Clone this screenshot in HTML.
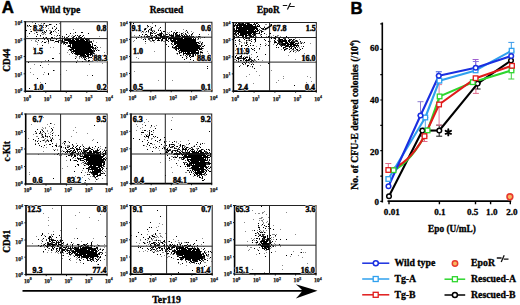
<!DOCTYPE html>
<html><head><meta charset="utf-8"><title>Figure</title>
<style>html,body{margin:0;padding:0;background:#fff;width:520px;height:305px;overflow:hidden}svg{display:block}</style>
</head><body>
<svg width="520" height="305" viewBox="0 0 520 305"><defs><filter id="bl" x="-5%" y="-5%" width="110%" height="110%"><feGaussianBlur stdDeviation="0.45"/></filter></defs><g filter="url(#bl)">
<path fill="#000" d="M35 23h1v1h-1zM44 23h1v1h-1zM49 24h2v1h-2zM56 24h1v1h-1zM27 25h1v1h-1zM29 25h1v1h-1zM39 25h1v1h-1zM43 25h1v1h-1zM46 25h1v1h-1zM30 26h1v1h-1zM35 26h1v1h-1zM41 26h1v1h-1zM46 26h1v1h-1zM54 26h1v1h-1zM40 27h1v1h-1zM43 27h1v1h-1zM39 28h1v1h-1zM52 28h1v1h-1zM56 28h1v1h-1zM38 29h1v1h-1zM41 29h2v1h-2zM55 29h1v1h-1zM26 30h1v1h-1zM35 30h1v1h-1zM38 30h1v1h-1zM40 30h2v1h-2zM46 30h1v1h-1zM58 30h1v1h-1zM31 31h1v1h-1zM40 31h1v1h-1zM44 31h1v1h-1zM51 31h1v1h-1zM53 31h1v1h-1zM36 32h1v1h-1zM42 32h1v1h-1zM45 32h1v1h-1zM50 32h2v1h-2zM75 32h1v1h-1zM81 32h2v1h-2zM29 33h1v1h-1zM50 33h1v1h-1zM70 33h1v1h-1zM88 33h1v1h-1zM37 34h1v1h-1zM51 34h1v1h-1zM66 34h1v1h-1zM40 35h1v1h-1zM57 35h1v1h-1zM59 35h1v1h-1zM75 35h1v1h-1zM77 35h1v1h-1zM80 35h1v1h-1zM83 35h1v1h-1zM36 36h1v1h-1zM62 36h1v1h-1zM68 36h1v1h-1zM74 36h1v1h-1zM79 36h1v1h-1zM82 36h1v1h-1zM43 37h1v1h-1zM46 37h1v1h-1zM51 37h2v1h-2zM64 37h1v1h-1zM73 37h1v1h-1zM76 37h1v1h-1zM80 37h2v1h-2zM42 38h1v1h-1zM47 38h1v1h-1zM62 38h1v1h-1zM70 38h1v1h-1zM73 38h7v1h-7zM81 38h2v1h-2zM84 38h1v1h-1zM87 38h1v1h-1zM89 38h1v1h-1zM44 39h1v1h-1zM47 39h1v1h-1zM50 39h1v1h-1zM56 39h1v1h-1zM62 39h1v1h-1zM64 39h7v1h-7zM72 39h2v1h-2zM75 39h4v1h-4zM80 39h4v1h-4zM85 39h2v1h-2zM88 39h1v1h-1zM38 40h1v1h-1zM48 40h1v1h-1zM52 40h2v1h-2zM60 40h1v1h-1zM62 40h1v1h-1zM65 40h10v1h-10zM76 40h9v1h-9zM86 40h2v1h-2zM42 41h1v1h-1zM48 41h1v1h-1zM55 41h4v1h-4zM62 41h1v1h-1zM68 41h20v1h-20zM89 41h1v1h-1zM91 41h1v1h-1zM44 42h2v1h-2zM58 42h1v1h-1zM64 42h4v1h-4zM69 42h21v1h-21zM91 42h1v1h-1zM64 43h1v1h-1zM69 43h21v1h-21zM92 43h1v1h-1zM65 44h1v1h-1zM70 44h1v1h-1zM72 44h19v1h-19zM92 44h1v1h-1zM42 45h1v1h-1zM68 45h3v1h-3zM72 45h19v1h-19zM94 45h2v1h-2zM68 46h3v1h-3zM72 46h21v1h-21zM70 47h24v1h-24zM95 47h1v1h-1zM97 47h1v1h-1zM72 48h19v1h-19zM92 48h1v1h-1zM95 48h1v1h-1zM69 49h5v1h-5zM75 49h17v1h-17zM39 50h1v1h-1zM70 50h1v1h-1zM73 50h20v1h-20zM94 50h1v1h-1zM96 50h1v1h-1zM98 50h1v1h-1zM72 51h21v1h-21zM94 51h1v1h-1zM71 52h1v1h-1zM75 52h18v1h-18zM72 53h1v1h-1zM74 53h15v1h-15zM90 53h2v1h-2zM93 53h1v1h-1zM76 54h9v1h-9zM86 54h6v1h-6zM94 54h1v1h-1zM96 54h1v1h-1zM80 55h6v1h-6zM87 55h2v1h-2zM90 55h1v1h-1zM92 55h1v1h-1zM94 55h2v1h-2zM83 56h1v1h-1zM85 56h4v1h-4zM83 57h1v1h-1zM85 57h1v1h-1zM89 57h1v1h-1zM91 57h1v1h-1zM97 57h1v1h-1zM52 58h2v1h-2zM75 58h1v1h-1zM94 58h1v1h-1zM84 59h2v1h-2zM48 60h1v1h-1zM88 60h2v1h-2zM82 61h1v1h-1zM88 61h1v1h-1zM28 62h1v1h-1zM76 62h1v1h-1zM40 65h1v1h-1zM53 70h1v1h-1zM48 73h1v1h-1zM48 74h1v1h-1zM92 75h1v1h-1zM37 78h1v1h-1zM45 83h1v1h-1zM29 88h1v1h-1z"/>
<path fill="#3a3a3a" d="M73 36h1v1h-1zM78 36h1v1h-1zM66 37h2v1h-2zM72 37h1v1h-1zM78 37h2v1h-2zM84 37h1v1h-1zM57 38h1v1h-1zM59 38h1v1h-1zM61 38h1v1h-1zM63 38h1v1h-1zM68 38h1v1h-1zM71 38h2v1h-2zM83 38h1v1h-1zM86 38h1v1h-1zM87 39h1v1h-1zM50 40h2v1h-2zM58 40h2v1h-2zM61 40h1v1h-1zM64 40h1v1h-1zM88 40h2v1h-2zM61 41h1v1h-1zM63 41h2v1h-2zM88 41h1v1h-1zM90 41h1v1h-1zM61 42h3v1h-3zM90 42h1v1h-1zM61 43h1v1h-1zM63 43h1v1h-1zM66 43h2v1h-2zM92 45h1v1h-1zM71 48h1v1h-1zM93 48h2v1h-2zM93 49h1v1h-1zM95 49h1v1h-1zM71 50h1v1h-1zM93 50h1v1h-1zM71 51h1v1h-1zM93 51h1v1h-1zM73 52h1v1h-1zM93 52h1v1h-1zM92 53h1v1h-1zM94 53h1v1h-1zM75 54h1v1h-1zM92 54h1v1h-1zM77 55h1v1h-1zM93 55h1v1h-1zM79 56h4v1h-4zM84 56h1v1h-1zM92 56h1v1h-1zM81 57h1v1h-1zM84 57h1v1h-1zM88 57h1v1h-1zM90 57h1v1h-1zM84 58h1v1h-1zM86 58h1v1h-1zM88 58h1v1h-1z"/>
<path fill="#8a8a8a" d="M32 22h1v1h-1zM41 23h1v1h-1zM43 23h1v1h-1zM59 23h1v1h-1zM38 24h1v1h-1zM43 24h1v1h-1zM51 24h1v1h-1zM45 25h1v1h-1zM47 25h2v1h-2zM27 26h2v1h-2zM31 26h1v1h-1zM37 26h1v1h-1zM39 26h1v1h-1zM45 27h1v1h-1zM52 27h1v1h-1zM56 27h1v1h-1zM35 28h1v1h-1zM48 28h1v1h-1zM30 29h1v1h-1zM34 29h1v1h-1zM43 29h1v1h-1zM73 29h1v1h-1zM36 30h2v1h-2zM39 30h1v1h-1zM43 30h1v1h-1zM49 30h2v1h-2zM54 30h1v1h-1zM30 31h1v1h-1zM36 31h1v1h-1zM42 31h1v1h-1zM46 31h1v1h-1zM50 31h1v1h-1zM55 31h1v1h-1zM60 31h1v1h-1zM37 32h1v1h-1zM43 32h2v1h-2zM56 32h1v1h-1zM34 33h1v1h-1zM41 33h1v1h-1zM43 33h2v1h-2zM49 33h1v1h-1zM58 33h1v1h-1zM73 33h1v1h-1zM42 34h2v1h-2zM45 34h1v1h-1zM54 35h1v1h-1zM69 35h1v1h-1zM72 35h1v1h-1zM79 35h1v1h-1zM27 36h1v1h-1zM40 36h1v1h-1zM56 36h1v1h-1zM64 36h1v1h-1zM71 36h1v1h-1zM99 36h1v1h-1zM45 37h1v1h-1zM54 37h1v1h-1zM59 37h2v1h-2zM62 37h1v1h-1zM36 38h1v1h-1zM52 38h1v1h-1zM36 39h1v1h-1zM48 39h1v1h-1zM89 39h1v1h-1zM31 40h1v1h-1zM35 40h1v1h-1zM93 40h1v1h-1zM35 41h2v1h-2zM46 41h1v1h-1zM93 41h1v1h-1zM37 42h1v1h-1zM41 42h1v1h-1zM48 42h1v1h-1zM54 42h1v1h-1zM96 42h1v1h-1zM48 43h1v1h-1zM37 44h1v1h-1zM63 44h1v1h-1zM60 45h1v1h-1zM67 46h1v1h-1zM96 46h1v1h-1zM33 47h1v1h-1zM50 47h1v1h-1zM53 47h1v1h-1zM100 47h1v1h-1zM96 48h1v1h-1zM97 49h1v1h-1zM68 50h1v1h-1zM99 50h1v1h-1zM67 52h1v1h-1zM104 52h1v1h-1zM59 53h1v1h-1zM69 54h1v1h-1zM95 54h1v1h-1zM97 55h1v1h-1zM102 55h1v1h-1zM75 56h2v1h-2zM76 57h1v1h-1zM79 57h1v1h-1zM79 58h1v1h-1zM82 58h1v1h-1zM92 58h1v1h-1zM45 60h1v1h-1zM60 60h1v1h-1zM77 60h1v1h-1zM85 60h2v1h-2zM92 60h1v1h-1zM97 61h1v1h-1zM41 62h1v1h-1zM102 63h1v1h-1zM34 64h1v1h-1zM48 64h1v1h-1zM89 64h1v1h-1zM42 67h1v1h-1zM30 68h1v1h-1zM54 70h1v1h-1zM66 70h1v1h-1zM30 72h1v1h-1zM44 72h1v1h-1zM33 74h1v1h-1zM43 74h1v1h-1zM60 74h1v1h-1zM87 75h1v1h-1zM40 82h1v1h-1z"/>
</g>
<path d="M25.3 21.7H107.3V91.2" fill="none" stroke="#222" stroke-width="1.1"/>
<path d="M25.3 21.2V91.2H107.8" fill="none" stroke="#000" stroke-width="1.6"/>
<path stroke="#222" stroke-width="1" fill="none" d="M60.7 21.7V91.2M25.3 38.6H107.3M25.3 61.8H107.3"/>
<path stroke="#111" stroke-width="1" d="M25.3 21.7h-1.6M25.3 91.2v1.6M25.3 39.1h-1.6M45.8 91.2v1.6M25.3 56.5h-1.6M66.3 91.2v1.6M25.3 73.8h-1.6M86.8 91.2v1.6M25.3 91.2h-1.6M107.3 91.2v1.6"/>
<text x="22.3" y="25.3" font-size="5.8" fill="#111" stroke="#222" stroke-width="0.25" font-family="Liberation Serif" font-weight="bold" text-anchor="end">10<tspan font-size="3.9" dy="-2.2">4</tspan></text>
<text x="27.1" y="100.6" font-size="5.8" fill="#111" stroke="#222" stroke-width="0.25" font-family="Liberation Serif" font-weight="bold" text-anchor="middle">10<tspan font-size="3.9" dy="-2.2">0</tspan></text>
<text x="22.3" y="42.7" font-size="5.8" fill="#111" stroke="#222" stroke-width="0.25" font-family="Liberation Serif" font-weight="bold" text-anchor="end">10<tspan font-size="3.9" dy="-2.2">3</tspan></text>
<text x="47.6" y="100.6" font-size="5.8" fill="#111" stroke="#222" stroke-width="0.25" font-family="Liberation Serif" font-weight="bold" text-anchor="middle">10<tspan font-size="3.9" dy="-2.2">1</tspan></text>
<text x="22.3" y="60.1" font-size="5.8" fill="#111" stroke="#222" stroke-width="0.25" font-family="Liberation Serif" font-weight="bold" text-anchor="end">10<tspan font-size="3.9" dy="-2.2">2</tspan></text>
<text x="68.1" y="100.6" font-size="5.8" fill="#111" stroke="#222" stroke-width="0.25" font-family="Liberation Serif" font-weight="bold" text-anchor="middle">10<tspan font-size="3.9" dy="-2.2">2</tspan></text>
<text x="22.3" y="77.4" font-size="5.8" fill="#111" stroke="#222" stroke-width="0.25" font-family="Liberation Serif" font-weight="bold" text-anchor="end">10<tspan font-size="3.9" dy="-2.2">1</tspan></text>
<text x="88.6" y="100.6" font-size="5.8" fill="#111" stroke="#222" stroke-width="0.25" font-family="Liberation Serif" font-weight="bold" text-anchor="middle">10<tspan font-size="3.9" dy="-2.2">3</tspan></text>
<text x="22.3" y="93.4" font-size="5.8" fill="#111" stroke="#222" stroke-width="0.25" font-family="Liberation Serif" font-weight="bold" text-anchor="end">10<tspan font-size="3.9" dy="-2.2">0</tspan></text>
<text x="109.1" y="100.6" font-size="5.8" fill="#111" stroke="#222" stroke-width="0.25" font-family="Liberation Serif" font-weight="bold" text-anchor="middle">10<tspan font-size="3.9" dy="-2.2">4</tspan></text>
<text x="33" y="30.5" font-size="8" font-family="Liberation Serif" font-weight="bold" text-anchor="start" stroke="#fff" stroke-width="1.6" stroke-linejoin="round">8.2</text>
<text x="33" y="30.5" font-size="8" font-family="Liberation Serif" font-weight="bold" text-anchor="start" stroke="#000" stroke-width="0.45">8.2</text>
<text x="106.5" y="30.5" font-size="8" font-family="Liberation Serif" font-weight="bold" text-anchor="end" stroke="#fff" stroke-width="1.6" stroke-linejoin="round">0.8</text>
<text x="106.5" y="30.5" font-size="8" font-family="Liberation Serif" font-weight="bold" text-anchor="end" stroke="#000" stroke-width="0.45">0.8</text>
<text x="33" y="53.5" font-size="8" font-family="Liberation Serif" font-weight="bold" text-anchor="start" stroke="#fff" stroke-width="1.6" stroke-linejoin="round">1.5</text>
<text x="33" y="53.5" font-size="8" font-family="Liberation Serif" font-weight="bold" text-anchor="start" stroke="#000" stroke-width="0.45">1.5</text>
<text x="107.5" y="61" font-size="8" font-family="Liberation Serif" font-weight="bold" text-anchor="end" stroke="#fff" stroke-width="1.6" stroke-linejoin="round">88.3</text>
<text x="107.5" y="61" font-size="8" font-family="Liberation Serif" font-weight="bold" text-anchor="end" stroke="#000" stroke-width="0.45">88.3</text>
<text x="33.5" y="90" font-size="8" font-family="Liberation Serif" font-weight="bold" text-anchor="start" stroke="#fff" stroke-width="1.6" stroke-linejoin="round">1.0</text>
<text x="33.5" y="90" font-size="8" font-family="Liberation Serif" font-weight="bold" text-anchor="start" stroke="#000" stroke-width="0.45">1.0</text>
<text x="106.8" y="90" font-size="8" font-family="Liberation Serif" font-weight="bold" text-anchor="end" stroke="#fff" stroke-width="1.6" stroke-linejoin="round">0.2</text>
<text x="106.8" y="90" font-size="8" font-family="Liberation Serif" font-weight="bold" text-anchor="end" stroke="#000" stroke-width="0.45">0.2</text>
<g filter="url(#bl)">
<path fill="#000" d="M133 23h1v1h-1zM147 25h1v1h-1zM155 25h1v1h-1zM140 26h1v1h-1zM148 26h1v1h-1zM152 27h1v1h-1zM160 27h1v1h-1zM138 28h1v1h-1zM145 28h1v1h-1zM151 28h1v1h-1zM144 29h2v1h-2zM149 29h1v1h-1zM151 29h1v1h-1zM148 30h1v1h-1zM151 30h1v1h-1zM158 30h1v1h-1zM160 30h1v1h-1zM186 30h1v1h-1zM142 31h1v1h-1zM146 31h1v1h-1zM148 31h1v1h-1zM152 31h1v1h-1zM154 31h1v1h-1zM163 31h2v1h-2zM171 31h1v1h-1zM150 32h1v1h-1zM161 32h1v1h-1zM174 32h1v1h-1zM176 32h2v1h-2zM187 32h1v1h-1zM150 33h1v1h-1zM152 33h1v1h-1zM160 33h2v1h-2zM173 33h1v1h-1zM175 33h2v1h-2zM181 33h1v1h-1zM185 33h1v1h-1zM192 33h1v1h-1zM142 34h1v1h-1zM145 34h2v1h-2zM150 34h1v1h-1zM157 34h2v1h-2zM160 34h2v1h-2zM166 34h1v1h-1zM169 34h1v1h-1zM173 34h1v1h-1zM175 34h1v1h-1zM179 34h1v1h-1zM191 34h1v1h-1zM199 34h1v1h-1zM139 35h1v1h-1zM152 35h1v1h-1zM155 35h2v1h-2zM159 35h3v1h-3zM170 35h4v1h-4zM176 35h4v1h-4zM181 35h2v1h-2zM184 35h1v1h-1zM189 35h1v1h-1zM141 36h1v1h-1zM144 36h1v1h-1zM146 36h1v1h-1zM148 36h2v1h-2zM156 36h1v1h-1zM160 36h9v1h-9zM171 36h3v1h-3zM175 36h6v1h-6zM182 36h7v1h-7zM193 36h1v1h-1zM198 36h2v1h-2zM138 37h1v1h-1zM151 37h1v1h-1zM154 37h5v1h-5zM160 37h8v1h-8zM169 37h11v1h-11zM181 37h10v1h-10zM194 37h1v1h-1zM204 37h1v1h-1zM136 38h1v1h-1zM150 38h3v1h-3zM156 38h5v1h-5zM162 38h5v1h-5zM168 38h15v1h-15zM184 38h8v1h-8zM193 38h1v1h-1zM195 38h1v1h-1zM198 38h1v1h-1zM143 39h1v1h-1zM145 39h1v1h-1zM158 39h1v1h-1zM162 39h1v1h-1zM166 39h1v1h-1zM170 39h1v1h-1zM173 39h23v1h-23zM152 40h2v1h-2zM157 40h3v1h-3zM161 40h2v1h-2zM166 40h2v1h-2zM171 40h5v1h-5zM177 40h19v1h-19zM145 41h1v1h-1zM168 41h1v1h-1zM171 41h25v1h-25zM165 42h1v1h-1zM174 42h25v1h-25zM202 42h1v1h-1zM171 43h1v1h-1zM174 43h23v1h-23zM199 43h1v1h-1zM201 43h1v1h-1zM166 44h1v1h-1zM174 44h2v1h-2zM177 44h21v1h-21zM201 44h1v1h-1zM176 45h24v1h-24zM204 45h1v1h-1zM168 46h1v1h-1zM172 46h1v1h-1zM175 46h24v1h-24zM200 46h1v1h-1zM202 46h2v1h-2zM172 47h1v1h-1zM174 47h3v1h-3zM178 47h22v1h-22zM176 48h24v1h-24zM201 48h2v1h-2zM175 49h2v1h-2zM178 49h1v1h-1zM180 49h18v1h-18zM199 49h3v1h-3zM176 50h1v1h-1zM179 50h19v1h-19zM181 51h15v1h-15zM198 51h1v1h-1zM179 52h1v1h-1zM181 52h1v1h-1zM183 52h1v1h-1zM185 52h1v1h-1zM187 52h3v1h-3zM191 52h8v1h-8zM200 52h3v1h-3zM177 53h1v1h-1zM179 53h1v1h-1zM183 53h12v1h-12zM196 53h3v1h-3zM183 54h1v1h-1zM186 54h1v1h-1zM188 54h1v1h-1zM193 54h1v1h-1zM195 54h1v1h-1zM197 54h2v1h-2zM200 54h1v1h-1zM180 55h1v1h-1zM189 55h2v1h-2zM193 55h1v1h-1zM186 56h1v1h-1zM189 56h1v1h-1zM191 56h3v1h-3zM202 56h1v1h-1zM182 57h1v1h-1zM190 57h1v1h-1zM186 58h1v1h-1zM184 59h1v1h-1zM190 59h1v1h-1zM193 60h1v1h-1zM207 66h1v1h-1zM207 68h1v1h-1z"/>
<path fill="#3a3a3a" d="M151 32h1v1h-1zM153 32h1v1h-1zM156 32h1v1h-1zM151 33h1v1h-1zM154 33h2v1h-2zM159 33h1v1h-1zM162 33h1v1h-1zM182 33h1v1h-1zM159 34h1v1h-1zM163 34h1v1h-1zM167 34h1v1h-1zM171 34h1v1h-1zM176 34h2v1h-2zM181 34h1v1h-1zM183 34h1v1h-1zM185 34h2v1h-2zM147 35h1v1h-1zM150 35h2v1h-2zM158 35h1v1h-1zM163 35h2v1h-2zM169 35h1v1h-1zM175 35h1v1h-1zM186 35h2v1h-2zM191 35h1v1h-1zM147 36h1v1h-1zM151 36h1v1h-1zM154 36h1v1h-1zM189 36h4v1h-4zM147 37h1v1h-1zM152 37h2v1h-2zM191 37h2v1h-2zM148 38h2v1h-2zM155 38h1v1h-1zM148 39h2v1h-2zM152 39h1v1h-1zM155 39h1v1h-1zM161 39h1v1h-1zM165 39h1v1h-1zM168 39h1v1h-1zM171 39h1v1h-1zM154 40h1v1h-1zM170 40h1v1h-1zM172 42h1v1h-1zM198 43h1v1h-1zM172 44h1v1h-1zM173 45h1v1h-1zM200 45h1v1h-1zM199 46h1v1h-1zM173 47h1v1h-1zM201 47h1v1h-1zM174 48h2v1h-2zM200 48h1v1h-1zM198 50h1v1h-1zM178 51h2v1h-2zM200 51h1v1h-1zM180 52h1v1h-1zM195 53h1v1h-1zM187 54h1v1h-1zM189 54h2v1h-2zM192 54h1v1h-1zM185 55h1v1h-1zM187 55h1v1h-1zM192 55h1v1h-1zM195 55h1v1h-1z"/>
<path fill="#8a8a8a" d="M152 23h1v1h-1zM137 25h1v1h-1zM139 26h1v1h-1zM147 26h1v1h-1zM150 26h1v1h-1zM155 26h1v1h-1zM135 27h1v1h-1zM147 27h1v1h-1zM151 27h1v1h-1zM144 28h1v1h-1zM146 28h1v1h-1zM150 28h1v1h-1zM159 28h1v1h-1zM150 29h1v1h-1zM158 29h1v1h-1zM183 29h1v1h-1zM140 30h1v1h-1zM144 30h1v1h-1zM150 30h1v1h-1zM152 30h3v1h-3zM175 30h1v1h-1zM143 31h1v1h-1zM161 31h1v1h-1zM185 31h1v1h-1zM187 31h1v1h-1zM191 31h1v1h-1zM141 32h1v1h-1zM143 32h1v1h-1zM145 32h1v1h-1zM148 32h1v1h-1zM167 32h1v1h-1zM169 32h1v1h-1zM173 32h1v1h-1zM179 32h1v1h-1zM183 32h1v1h-1zM193 32h1v1h-1zM168 33h1v1h-1zM188 33h1v1h-1zM192 34h1v1h-1zM208 34h1v1h-1zM134 35h1v1h-1zM144 35h1v1h-1zM196 36h1v1h-1zM200 36h1v1h-1zM197 37h1v1h-1zM202 37h1v1h-1zM141 38h1v1h-1zM144 38h2v1h-2zM200 38h1v1h-1zM197 39h2v1h-2zM134 40h1v1h-1zM149 40h2v1h-2zM133 41h1v1h-1zM150 41h2v1h-2zM153 41h1v1h-1zM161 41h1v1h-1zM163 41h3v1h-3zM199 41h2v1h-2zM154 42h1v1h-1zM200 42h1v1h-1zM145 43h1v1h-1zM202 43h1v1h-1zM171 44h1v1h-1zM202 44h1v1h-1zM201 45h1v1h-1zM173 48h1v1h-1zM203 48h1v1h-1zM202 50h1v1h-1zM154 51h1v1h-1zM201 51h1v1h-1zM207 51h1v1h-1zM176 53h1v1h-1zM200 53h1v1h-1zM202 53h1v1h-1zM208 53h1v1h-1zM177 54h1v1h-1zM181 55h1v1h-1zM183 55h1v1h-1zM197 55h1v1h-1zM199 55h1v1h-1zM207 56h1v1h-1zM136 57h1v1h-1zM186 57h2v1h-2zM201 57h1v1h-1zM138 58h1v1h-1zM189 62h1v1h-1zM134 71h1v1h-1zM158 80h1v1h-1zM172 80h1v1h-1zM207 85h1v1h-1z"/>
</g>
<path d="M130.6 22.3H211.9V90.6" fill="none" stroke="#222" stroke-width="1.1"/>
<path d="M130.6 21.8V90.6H212.4" fill="none" stroke="#000" stroke-width="1.6"/>
<path stroke="#222" stroke-width="1" fill="none" d="M165.4 22.3V90.6M130.6 37.2H211.9M130.6 62.2H211.9"/>
<path stroke="#111" stroke-width="1" d="M130.6 22.3h-1.6M130.6 90.6v1.6M130.6 39.4h-1.6M150.9 90.6v1.6M130.6 56.5h-1.6M171.2 90.6v1.6M130.6 73.5h-1.6M191.6 90.6v1.6M130.6 90.6h-1.6M211.9 90.6v1.6"/>
<text x="127.6" y="25.9" font-size="5.8" fill="#111" stroke="#222" stroke-width="0.25" font-family="Liberation Serif" font-weight="bold" text-anchor="end">10<tspan font-size="3.9" dy="-2.2">4</tspan></text>
<text x="132.4" y="100" font-size="5.8" fill="#111" stroke="#222" stroke-width="0.25" font-family="Liberation Serif" font-weight="bold" text-anchor="middle">10<tspan font-size="3.9" dy="-2.2">0</tspan></text>
<text x="127.6" y="43" font-size="5.8" fill="#111" stroke="#222" stroke-width="0.25" font-family="Liberation Serif" font-weight="bold" text-anchor="end">10<tspan font-size="3.9" dy="-2.2">3</tspan></text>
<text x="152.7" y="100" font-size="5.8" fill="#111" stroke="#222" stroke-width="0.25" font-family="Liberation Serif" font-weight="bold" text-anchor="middle">10<tspan font-size="3.9" dy="-2.2">1</tspan></text>
<text x="127.6" y="60.1" font-size="5.8" fill="#111" stroke="#222" stroke-width="0.25" font-family="Liberation Serif" font-weight="bold" text-anchor="end">10<tspan font-size="3.9" dy="-2.2">2</tspan></text>
<text x="173.1" y="100" font-size="5.8" fill="#111" stroke="#222" stroke-width="0.25" font-family="Liberation Serif" font-weight="bold" text-anchor="middle">10<tspan font-size="3.9" dy="-2.2">2</tspan></text>
<text x="127.6" y="77.1" font-size="5.8" fill="#111" stroke="#222" stroke-width="0.25" font-family="Liberation Serif" font-weight="bold" text-anchor="end">10<tspan font-size="3.9" dy="-2.2">1</tspan></text>
<text x="193.4" y="100" font-size="5.8" fill="#111" stroke="#222" stroke-width="0.25" font-family="Liberation Serif" font-weight="bold" text-anchor="middle">10<tspan font-size="3.9" dy="-2.2">3</tspan></text>
<text x="127.6" y="92.8" font-size="5.8" fill="#111" stroke="#222" stroke-width="0.25" font-family="Liberation Serif" font-weight="bold" text-anchor="end">10<tspan font-size="3.9" dy="-2.2">0</tspan></text>
<text x="213.7" y="100" font-size="5.8" fill="#111" stroke="#222" stroke-width="0.25" font-family="Liberation Serif" font-weight="bold" text-anchor="middle">10<tspan font-size="3.9" dy="-2.2">4</tspan></text>
<text x="131.5" y="31" font-size="8" font-family="Liberation Serif" font-weight="bold" text-anchor="start" stroke="#fff" stroke-width="1.6" stroke-linejoin="round">9.1</text>
<text x="131.5" y="31" font-size="8" font-family="Liberation Serif" font-weight="bold" text-anchor="start" stroke="#000" stroke-width="0.45">9.1</text>
<text x="211" y="30.5" font-size="8" font-family="Liberation Serif" font-weight="bold" text-anchor="end" stroke="#fff" stroke-width="1.6" stroke-linejoin="round">0.6</text>
<text x="211" y="30.5" font-size="8" font-family="Liberation Serif" font-weight="bold" text-anchor="end" stroke="#000" stroke-width="0.45">0.6</text>
<text x="133" y="53.5" font-size="8" font-family="Liberation Serif" font-weight="bold" text-anchor="start" stroke="#fff" stroke-width="1.6" stroke-linejoin="round">1.0</text>
<text x="133" y="53.5" font-size="8" font-family="Liberation Serif" font-weight="bold" text-anchor="start" stroke="#000" stroke-width="0.45">1.0</text>
<text x="211" y="61" font-size="8" font-family="Liberation Serif" font-weight="bold" text-anchor="end" stroke="#fff" stroke-width="1.6" stroke-linejoin="round">88.6</text>
<text x="211" y="61" font-size="8" font-family="Liberation Serif" font-weight="bold" text-anchor="end" stroke="#000" stroke-width="0.45">88.6</text>
<text x="133" y="90" font-size="8" font-family="Liberation Serif" font-weight="bold" text-anchor="start" stroke="#fff" stroke-width="1.6" stroke-linejoin="round">0.5</text>
<text x="133" y="90" font-size="8" font-family="Liberation Serif" font-weight="bold" text-anchor="start" stroke="#000" stroke-width="0.45">0.5</text>
<text x="211" y="90" font-size="8" font-family="Liberation Serif" font-weight="bold" text-anchor="end" stroke="#fff" stroke-width="1.6" stroke-linejoin="round">0.1</text>
<text x="211" y="90" font-size="8" font-family="Liberation Serif" font-weight="bold" text-anchor="end" stroke="#000" stroke-width="0.45">0.1</text>
<g filter="url(#bl)">
<path fill="#000" d="M236 23h1v1h-1zM238 23h2v1h-2zM242 23h2v1h-2zM247 23h2v1h-2zM254 23h1v1h-1zM256 23h1v1h-1zM235 24h1v1h-1zM237 24h1v1h-1zM239 24h7v1h-7zM247 24h5v1h-5zM253 24h1v1h-1zM255 24h1v1h-1zM258 24h1v1h-1zM271 24h1v1h-1zM234 25h1v1h-1zM236 25h17v1h-17zM255 25h1v1h-1zM257 25h1v1h-1zM259 25h1v1h-1zM234 26h1v1h-1zM237 26h1v1h-1zM239 26h3v1h-3zM243 26h13v1h-13zM257 26h3v1h-3zM236 27h21v1h-21zM264 27h1v1h-1zM236 28h22v1h-22zM261 28h1v1h-1zM263 28h1v1h-1zM265 28h1v1h-1zM308 28h1v1h-1zM234 29h1v1h-1zM236 29h1v1h-1zM238 29h17v1h-17zM256 29h2v1h-2zM263 29h1v1h-1zM265 29h1v1h-1zM235 30h12v1h-12zM248 30h6v1h-6zM255 30h1v1h-1zM257 30h2v1h-2zM234 31h1v1h-1zM236 31h22v1h-22zM261 31h2v1h-2zM235 32h1v1h-1zM238 32h18v1h-18zM259 32h1v1h-1zM261 32h1v1h-1zM234 33h2v1h-2zM237 33h2v1h-2zM240 33h12v1h-12zM253 33h2v1h-2zM256 33h1v1h-1zM259 33h1v1h-1zM264 33h1v1h-1zM269 33h2v1h-2zM236 34h1v1h-1zM238 34h1v1h-1zM240 34h7v1h-7zM248 34h3v1h-3zM252 34h1v1h-1zM254 34h2v1h-2zM261 34h1v1h-1zM236 35h1v1h-1zM239 35h5v1h-5zM245 35h3v1h-3zM249 35h2v1h-2zM254 35h1v1h-1zM234 36h1v1h-1zM238 36h1v1h-1zM242 36h2v1h-2zM245 36h2v1h-2zM250 36h2v1h-2zM253 36h1v1h-1zM261 36h1v1h-1zM268 36h2v1h-2zM275 36h1v1h-1zM286 36h1v1h-1zM238 37h2v1h-2zM246 37h1v1h-1zM248 37h1v1h-1zM251 37h1v1h-1zM267 37h1v1h-1zM279 37h1v1h-1zM284 37h2v1h-2zM289 37h2v1h-2zM234 38h1v1h-1zM243 38h1v1h-1zM246 38h1v1h-1zM249 38h1v1h-1zM255 38h1v1h-1zM271 38h1v1h-1zM274 38h2v1h-2zM279 38h1v1h-1zM239 39h1v1h-1zM244 39h1v1h-1zM251 39h1v1h-1zM254 39h2v1h-2zM264 39h1v1h-1zM279 39h4v1h-4zM285 39h1v1h-1zM289 39h1v1h-1zM291 39h1v1h-1zM293 39h1v1h-1zM235 40h1v1h-1zM246 40h1v1h-1zM249 40h1v1h-1zM255 40h1v1h-1zM265 40h1v1h-1zM274 40h1v1h-1zM279 40h2v1h-2zM282 40h5v1h-5zM288 40h2v1h-2zM292 40h1v1h-1zM296 40h1v1h-1zM239 41h1v1h-1zM251 41h1v1h-1zM255 41h1v1h-1zM268 41h1v1h-1zM275 41h1v1h-1zM278 41h9v1h-9zM288 41h2v1h-2zM291 41h1v1h-1zM297 41h1v1h-1zM300 41h1v1h-1zM246 42h1v1h-1zM269 42h1v1h-1zM274 42h3v1h-3zM279 42h1v1h-1zM281 42h2v1h-2zM285 42h3v1h-3zM289 42h6v1h-6zM304 42h1v1h-1zM246 43h1v1h-1zM250 43h1v1h-1zM278 43h1v1h-1zM282 43h7v1h-7zM290 43h4v1h-4zM295 43h2v1h-2zM298 43h1v1h-1zM301 43h1v1h-1zM235 44h1v1h-1zM247 44h1v1h-1zM260 44h1v1h-1zM277 44h1v1h-1zM279 44h1v1h-1zM281 44h5v1h-5zM287 44h8v1h-8zM241 45h1v1h-1zM245 45h2v1h-2zM250 45h1v1h-1zM253 45h1v1h-1zM265 45h1v1h-1zM268 45h1v1h-1zM276 45h1v1h-1zM282 45h1v1h-1zM284 45h1v1h-1zM286 45h3v1h-3zM290 45h2v1h-2zM293 45h6v1h-6zM236 46h1v1h-1zM241 46h1v1h-1zM248 46h1v1h-1zM281 46h1v1h-1zM285 46h3v1h-3zM289 46h2v1h-2zM292 46h1v1h-1zM296 46h1v1h-1zM303 46h1v1h-1zM276 47h1v1h-1zM278 47h1v1h-1zM283 47h2v1h-2zM289 47h1v1h-1zM291 47h1v1h-1zM295 47h1v1h-1zM244 48h1v1h-1zM251 48h1v1h-1zM254 48h1v1h-1zM259 48h1v1h-1zM283 48h1v1h-1zM286 48h2v1h-2zM291 48h1v1h-1zM293 48h1v1h-1zM295 48h1v1h-1zM302 48h1v1h-1zM247 49h2v1h-2zM252 49h1v1h-1zM284 49h2v1h-2zM289 49h1v1h-1zM296 49h2v1h-2zM300 49h1v1h-1zM247 50h1v1h-1zM254 50h1v1h-1zM284 50h1v1h-1zM297 50h1v1h-1zM299 50h1v1h-1zM238 51h1v1h-1zM290 51h1v1h-1zM293 51h1v1h-1zM256 52h1v1h-1zM247 54h1v1h-1zM265 54h1v1h-1zM236 55h1v1h-1zM241 55h1v1h-1zM235 56h1v1h-1zM240 56h2v1h-2zM257 56h1v1h-1zM235 57h1v1h-1zM237 57h2v1h-2zM243 57h1v1h-1zM245 57h3v1h-3zM249 57h1v1h-1zM237 58h4v1h-4zM243 58h3v1h-3zM249 58h1v1h-1zM238 59h1v1h-1zM243 59h1v1h-1zM246 59h1v1h-1zM248 59h2v1h-2zM254 59h1v1h-1zM258 59h1v1h-1zM236 60h1v1h-1zM240 60h1v1h-1zM245 60h4v1h-4zM252 60h1v1h-1zM238 61h1v1h-1zM251 61h1v1h-1zM253 61h1v1h-1zM244 62h1v1h-1zM246 62h1v1h-1zM248 62h1v1h-1zM242 63h1v1h-1zM245 63h1v1h-1zM268 63h1v1h-1zM243 64h1v1h-1zM251 64h1v1h-1zM253 64h1v1h-1zM247 65h2v1h-2zM239 66h1v1h-1zM247 66h1v1h-1zM252 66h1v1h-1zM254 68h1v1h-1zM294 85h1v1h-1zM314 85h1v1h-1z"/>
<path fill="#3a3a3a" d="M240 23h2v1h-2zM245 23h2v1h-2zM249 23h1v1h-1zM257 23h1v1h-1zM238 24h1v1h-1zM254 24h1v1h-1zM235 25h1v1h-1zM236 26h1v1h-1zM256 26h1v1h-1zM260 27h1v1h-1zM234 28h1v1h-1zM262 28h1v1h-1zM259 29h1v1h-1zM262 29h1v1h-1zM234 30h1v1h-1zM260 30h2v1h-2zM235 31h1v1h-1zM259 31h1v1h-1zM236 32h1v1h-1zM255 33h1v1h-1zM257 33h2v1h-2zM234 34h2v1h-2zM253 34h1v1h-1zM248 35h1v1h-1zM251 35h1v1h-1zM253 35h1v1h-1zM255 35h1v1h-1zM249 36h1v1h-1zM252 36h1v1h-1zM255 36h1v1h-1zM241 37h1v1h-1zM243 37h1v1h-1zM249 37h2v1h-2zM280 37h1v1h-1zM286 37h1v1h-1zM245 38h1v1h-1zM247 38h2v1h-2zM278 38h1v1h-1zM283 38h3v1h-3zM288 38h1v1h-1zM275 39h1v1h-1zM278 39h1v1h-1zM284 39h1v1h-1zM290 39h1v1h-1zM294 39h1v1h-1zM277 40h2v1h-2zM281 40h1v1h-1zM290 40h1v1h-1zM293 40h1v1h-1zM295 40h1v1h-1zM274 41h1v1h-1zM292 41h5v1h-5zM278 42h1v1h-1zM280 42h1v1h-1zM298 42h1v1h-1zM277 43h1v1h-1zM279 43h3v1h-3zM297 43h1v1h-1zM280 44h1v1h-1zM295 44h1v1h-1zM297 44h1v1h-1zM280 45h2v1h-2zM283 45h1v1h-1zM285 45h1v1h-1zM288 46h1v1h-1zM291 46h1v1h-1zM293 46h2v1h-2zM298 46h1v1h-1zM285 47h1v1h-1zM294 47h1v1h-1zM297 47h1v1h-1zM290 48h1v1h-1zM292 49h2v1h-2zM241 57h1v1h-1zM241 58h2v1h-2zM250 58h1v1h-1zM244 59h1v1h-1zM250 59h2v1h-2zM241 60h1v1h-1zM243 60h1v1h-1zM249 60h1v1h-1zM251 60h1v1h-1zM246 61h1v1h-1zM250 61h1v1h-1z"/>
<path fill="#8a8a8a" d="M235 23h1v1h-1zM265 24h2v1h-2zM270 24h1v1h-1zM264 26h1v1h-1zM273 28h1v1h-1zM269 29h1v1h-1zM263 31h1v1h-1zM260 34h1v1h-1zM266 34h1v1h-1zM235 35h1v1h-1zM260 35h1v1h-1zM273 35h1v1h-1zM277 35h2v1h-2zM236 36h2v1h-2zM256 36h1v1h-1zM266 36h1v1h-1zM271 36h1v1h-1zM276 36h2v1h-2zM280 36h1v1h-1zM234 37h1v1h-1zM237 37h1v1h-1zM254 37h1v1h-1zM275 37h1v1h-1zM301 37h1v1h-1zM273 38h1v1h-1zM295 38h1v1h-1zM248 39h2v1h-2zM299 39h1v1h-1zM238 40h2v1h-2zM247 40h2v1h-2zM250 40h1v1h-1zM297 40h1v1h-1zM240 41h1v1h-1zM246 41h1v1h-1zM270 41h1v1h-1zM235 42h1v1h-1zM241 42h1v1h-1zM244 42h1v1h-1zM247 42h1v1h-1zM254 42h1v1h-1zM300 42h3v1h-3zM239 43h1v1h-1zM244 43h1v1h-1zM265 43h1v1h-1zM274 43h1v1h-1zM300 43h1v1h-1zM303 43h1v1h-1zM310 43h1v1h-1zM239 44h1v1h-1zM266 44h1v1h-1zM273 44h1v1h-1zM236 45h1v1h-1zM242 45h1v1h-1zM252 45h1v1h-1zM256 46h1v1h-1zM260 46h1v1h-1zM301 46h1v1h-1zM299 47h1v1h-1zM285 48h1v1h-1zM299 48h1v1h-1zM240 49h1v1h-1zM253 49h1v1h-1zM259 49h1v1h-1zM281 49h1v1h-1zM286 49h1v1h-1zM235 50h1v1h-1zM243 50h1v1h-1zM291 50h1v1h-1zM293 50h3v1h-3zM298 50h1v1h-1zM243 51h1v1h-1zM296 51h1v1h-1zM298 51h1v1h-1zM238 52h1v1h-1zM289 52h1v1h-1zM295 52h1v1h-1zM235 53h1v1h-1zM238 53h1v1h-1zM241 53h1v1h-1zM245 53h1v1h-1zM304 53h1v1h-1zM237 54h1v1h-1zM251 54h1v1h-1zM249 55h1v1h-1zM288 55h1v1h-1zM239 56h1v1h-1zM244 56h1v1h-1zM246 56h2v1h-2zM249 56h1v1h-1zM239 57h2v1h-2zM251 57h1v1h-1zM256 57h1v1h-1zM236 58h1v1h-1zM234 59h2v1h-2zM295 59h1v1h-1zM238 60h1v1h-1zM253 60h3v1h-3zM262 60h1v1h-1zM256 61h1v1h-1zM243 62h1v1h-1zM251 62h1v1h-1zM249 63h1v1h-1zM252 63h1v1h-1zM245 64h1v1h-1zM240 65h1v1h-1zM260 65h1v1h-1zM250 66h1v1h-1zM252 67h1v1h-1zM271 70h1v1h-1zM256 71h1v1h-1zM249 74h1v1h-1zM259 75h1v1h-1zM246 76h1v1h-1zM283 76h1v1h-1zM307 76h1v1h-1zM310 77h1v1h-1zM283 78h1v1h-1zM278 80h1v1h-1zM311 81h1v1h-1zM276 82h1v1h-1zM306 82h1v1h-1zM253 83h1v1h-1zM237 84h1v1h-1z"/>
</g>
<path d="M233.4 22.5H316.3V91.1" fill="none" stroke="#222" stroke-width="1.1"/>
<path d="M233.4 22V91.1H316.8" fill="none" stroke="#000" stroke-width="1.6"/>
<path stroke="#222" stroke-width="1" fill="none" d="M269.6 22.5V91.1M233.4 37.5H316.3M233.4 62.1H316.3"/>
<path stroke="#111" stroke-width="1" d="M233.4 22.5h-1.6M233.4 91.1v1.6M233.4 39.6h-1.6M254.1 91.1v1.6M233.4 56.8h-1.6M274.9 91.1v1.6M233.4 73.9h-1.6M295.6 91.1v1.6M233.4 91.1h-1.6M316.3 91.1v1.6"/>
<text x="230.4" y="26.1" font-size="5.8" fill="#111" stroke="#222" stroke-width="0.25" font-family="Liberation Serif" font-weight="bold" text-anchor="end">10<tspan font-size="3.9" dy="-2.2">4</tspan></text>
<text x="235.2" y="100.5" font-size="5.8" fill="#111" stroke="#222" stroke-width="0.25" font-family="Liberation Serif" font-weight="bold" text-anchor="middle">10<tspan font-size="3.9" dy="-2.2">0</tspan></text>
<text x="230.4" y="43.2" font-size="5.8" fill="#111" stroke="#222" stroke-width="0.25" font-family="Liberation Serif" font-weight="bold" text-anchor="end">10<tspan font-size="3.9" dy="-2.2">3</tspan></text>
<text x="255.9" y="100.5" font-size="5.8" fill="#111" stroke="#222" stroke-width="0.25" font-family="Liberation Serif" font-weight="bold" text-anchor="middle">10<tspan font-size="3.9" dy="-2.2">1</tspan></text>
<text x="230.4" y="60.4" font-size="5.8" fill="#111" stroke="#222" stroke-width="0.25" font-family="Liberation Serif" font-weight="bold" text-anchor="end">10<tspan font-size="3.9" dy="-2.2">2</tspan></text>
<text x="276.7" y="100.5" font-size="5.8" fill="#111" stroke="#222" stroke-width="0.25" font-family="Liberation Serif" font-weight="bold" text-anchor="middle">10<tspan font-size="3.9" dy="-2.2">2</tspan></text>
<text x="230.4" y="77.5" font-size="5.8" fill="#111" stroke="#222" stroke-width="0.25" font-family="Liberation Serif" font-weight="bold" text-anchor="end">10<tspan font-size="3.9" dy="-2.2">1</tspan></text>
<text x="297.4" y="100.5" font-size="5.8" fill="#111" stroke="#222" stroke-width="0.25" font-family="Liberation Serif" font-weight="bold" text-anchor="middle">10<tspan font-size="3.9" dy="-2.2">3</tspan></text>
<text x="230.4" y="93.3" font-size="5.8" fill="#111" stroke="#222" stroke-width="0.25" font-family="Liberation Serif" font-weight="bold" text-anchor="end">10<tspan font-size="3.9" dy="-2.2">0</tspan></text>
<text x="318.1" y="100.5" font-size="5.8" fill="#111" stroke="#222" stroke-width="0.25" font-family="Liberation Serif" font-weight="bold" text-anchor="middle">10<tspan font-size="3.9" dy="-2.2">4</tspan></text>
<text x="272.6" y="30.7" font-size="8" font-family="Liberation Serif" font-weight="bold" text-anchor="start" stroke="#fff" stroke-width="1.6" stroke-linejoin="round">67.8</text>
<text x="272.6" y="30.7" font-size="8" font-family="Liberation Serif" font-weight="bold" text-anchor="start" stroke="#000" stroke-width="0.45">67.8</text>
<text x="315.8" y="31" font-size="8" font-family="Liberation Serif" font-weight="bold" text-anchor="end" stroke="#fff" stroke-width="1.6" stroke-linejoin="round">1.5</text>
<text x="315.8" y="31" font-size="8" font-family="Liberation Serif" font-weight="bold" text-anchor="end" stroke="#000" stroke-width="0.45">1.5</text>
<text x="236" y="53.5" font-size="8" font-family="Liberation Serif" font-weight="bold" text-anchor="start" stroke="#fff" stroke-width="1.6" stroke-linejoin="round">11.9</text>
<text x="236" y="53.5" font-size="8" font-family="Liberation Serif" font-weight="bold" text-anchor="start" stroke="#000" stroke-width="0.45">11.9</text>
<text x="315.5" y="60.7" font-size="8" font-family="Liberation Serif" font-weight="bold" text-anchor="end" stroke="#fff" stroke-width="1.6" stroke-linejoin="round">16.0</text>
<text x="315.5" y="60.7" font-size="8" font-family="Liberation Serif" font-weight="bold" text-anchor="end" stroke="#000" stroke-width="0.45">16.0</text>
<text x="238" y="89.5" font-size="8" font-family="Liberation Serif" font-weight="bold" text-anchor="start" stroke="#fff" stroke-width="1.6" stroke-linejoin="round">2.4</text>
<text x="238" y="89.5" font-size="8" font-family="Liberation Serif" font-weight="bold" text-anchor="start" stroke="#000" stroke-width="0.45">2.4</text>
<text x="315" y="89.7" font-size="8" font-family="Liberation Serif" font-weight="bold" text-anchor="end" stroke="#fff" stroke-width="1.6" stroke-linejoin="round">0.4</text>
<text x="315" y="89.7" font-size="8" font-family="Liberation Serif" font-weight="bold" text-anchor="end" stroke="#000" stroke-width="0.45">0.4</text>
<g filter="url(#bl)">
<path fill="#000" d="M50 123h1v1h-1zM94 125h1v1h-1zM51 128h1v1h-1zM37 129h1v1h-1zM52 129h1v1h-1zM42 130h1v1h-1zM52 130h1v1h-1zM35 131h1v1h-1zM40 131h1v1h-1zM43 131h1v1h-1zM40 132h1v1h-1zM36 133h1v1h-1zM39 133h1v1h-1zM45 133h1v1h-1zM52 133h1v1h-1zM42 134h1v1h-1zM45 135h1v1h-1zM52 135h1v1h-1zM58 135h1v1h-1zM42 136h1v1h-1zM45 136h1v1h-1zM47 136h1v1h-1zM49 136h1v1h-1zM43 137h1v1h-1zM38 138h1v1h-1zM52 138h1v1h-1zM33 139h1v1h-1zM51 139h1v1h-1zM35 140h1v1h-1zM43 140h1v1h-1zM47 140h1v1h-1zM50 140h2v1h-2zM37 141h1v1h-1zM40 141h1v1h-1zM48 141h1v1h-1zM51 141h1v1h-1zM64 141h2v1h-2zM69 142h1v1h-1zM97 142h1v1h-1zM38 143h1v1h-1zM52 143h1v1h-1zM64 143h1v1h-1zM35 144h1v1h-1zM49 144h2v1h-2zM72 144h1v1h-1zM39 145h1v1h-1zM44 145h1v1h-1zM55 145h2v1h-2zM77 145h1v1h-1zM41 146h1v1h-1zM52 146h1v1h-1zM56 146h1v1h-1zM61 146h1v1h-1zM69 146h1v1h-1zM73 146h1v1h-1zM76 146h1v1h-1zM80 146h1v1h-1zM83 146h1v1h-1zM95 146h1v1h-1zM61 147h1v1h-1zM65 147h1v1h-1zM67 147h1v1h-1zM72 147h1v1h-1zM75 147h1v1h-1zM79 147h1v1h-1zM89 147h1v1h-1zM92 147h1v1h-1zM98 147h1v1h-1zM105 147h1v1h-1zM65 148h1v1h-1zM70 148h1v1h-1zM73 148h1v1h-1zM76 148h1v1h-1zM86 148h1v1h-1zM88 148h3v1h-3zM69 149h1v1h-1zM74 149h1v1h-1zM76 149h5v1h-5zM88 149h1v1h-1zM91 149h2v1h-2zM97 149h1v1h-1zM54 150h1v1h-1zM60 150h1v1h-1zM67 150h1v1h-1zM71 150h1v1h-1zM73 150h2v1h-2zM77 150h1v1h-1zM83 150h1v1h-1zM85 150h3v1h-3zM93 150h1v1h-1zM97 150h2v1h-2zM104 150h1v1h-1zM106 150h1v1h-1zM63 151h1v1h-1zM66 151h5v1h-5zM75 151h1v1h-1zM81 151h1v1h-1zM84 151h2v1h-2zM89 151h3v1h-3zM93 151h4v1h-4zM100 151h1v1h-1zM105 151h1v1h-1zM65 152h1v1h-1zM67 152h1v1h-1zM72 152h1v1h-1zM74 152h2v1h-2zM78 152h1v1h-1zM82 152h1v1h-1zM84 152h1v1h-1zM87 152h5v1h-5zM93 152h7v1h-7zM105 152h1v1h-1zM58 153h1v1h-1zM70 153h3v1h-3zM80 153h1v1h-1zM83 153h1v1h-1zM85 153h1v1h-1zM87 153h8v1h-8zM96 153h3v1h-3zM100 153h1v1h-1zM103 153h3v1h-3zM57 154h1v1h-1zM70 154h3v1h-3zM74 154h1v1h-1zM78 154h1v1h-1zM84 154h17v1h-17zM102 154h2v1h-2zM105 154h1v1h-1zM68 155h2v1h-2zM74 155h2v1h-2zM84 155h17v1h-17zM103 155h2v1h-2zM66 156h1v1h-1zM71 156h1v1h-1zM74 156h2v1h-2zM80 156h2v1h-2zM83 156h6v1h-6zM90 156h14v1h-14zM73 157h1v1h-1zM83 157h20v1h-20zM77 158h2v1h-2zM80 158h4v1h-4zM86 158h16v1h-16zM103 158h2v1h-2zM106 158h1v1h-1zM70 159h1v1h-1zM78 159h1v1h-1zM80 159h1v1h-1zM84 159h20v1h-20zM105 159h1v1h-1zM70 160h1v1h-1zM74 160h3v1h-3zM80 160h1v1h-1zM82 160h2v1h-2zM86 160h18v1h-18zM77 161h1v1h-1zM84 161h1v1h-1zM86 161h1v1h-1zM88 161h15v1h-15zM104 161h1v1h-1zM87 162h18v1h-18zM85 163h1v1h-1zM88 163h14v1h-14zM104 163h1v1h-1zM77 164h2v1h-2zM87 164h15v1h-15zM103 164h2v1h-2zM78 165h1v1h-1zM84 165h1v1h-1zM88 165h1v1h-1zM90 165h2v1h-2zM93 165h9v1h-9zM103 165h1v1h-1zM75 166h1v1h-1zM89 166h7v1h-7zM98 166h4v1h-4zM88 167h12v1h-12zM101 167h2v1h-2zM83 168h1v1h-1zM86 168h2v1h-2zM91 168h7v1h-7zM99 168h2v1h-2zM106 168h1v1h-1zM88 169h1v1h-1zM90 169h11v1h-11zM102 169h1v1h-1zM88 170h1v1h-1zM92 170h1v1h-1zM94 170h8v1h-8zM74 171h1v1h-1zM92 171h9v1h-9zM81 172h1v1h-1zM91 172h8v1h-8zM100 172h1v1h-1zM93 173h5v1h-5zM101 173h2v1h-2zM104 173h1v1h-1zM87 174h1v1h-1zM89 174h1v1h-1zM93 174h5v1h-5zM100 174h1v1h-1zM93 175h1v1h-1zM97 175h4v1h-4zM105 175h1v1h-1zM94 176h1v1h-1zM96 176h2v1h-2zM95 177h1v1h-1zM53 178h1v1h-1zM96 179h1v1h-1zM85 180h1v1h-1z"/>
<path fill="#3a3a3a" d="M68 147h1v1h-1zM71 148h2v1h-2zM77 148h1v1h-1zM79 148h1v1h-1zM83 148h1v1h-1zM85 148h1v1h-1zM66 149h1v1h-1zM68 149h1v1h-1zM83 149h2v1h-2zM87 149h1v1h-1zM70 150h1v1h-1zM81 150h1v1h-1zM84 150h1v1h-1zM89 150h2v1h-2zM95 150h2v1h-2zM72 151h2v1h-2zM77 151h1v1h-1zM79 151h1v1h-1zM83 151h1v1h-1zM86 151h1v1h-1zM97 151h1v1h-1zM103 151h1v1h-1zM69 152h1v1h-1zM71 152h1v1h-1zM73 152h1v1h-1zM80 152h1v1h-1zM83 152h1v1h-1zM85 152h2v1h-2zM100 152h1v1h-1zM102 152h1v1h-1zM73 153h1v1h-1zM76 153h3v1h-3zM82 153h1v1h-1zM84 153h1v1h-1zM77 154h1v1h-1zM80 154h1v1h-1zM71 155h2v1h-2zM77 155h1v1h-1zM79 155h2v1h-2zM82 155h1v1h-1zM82 156h1v1h-1zM77 157h1v1h-1zM105 157h1v1h-1zM79 158h1v1h-1zM104 159h1v1h-1zM81 160h1v1h-1zM105 160h1v1h-1zM103 161h1v1h-1zM83 162h1v1h-1zM85 162h1v1h-1zM84 163h1v1h-1zM86 163h2v1h-2zM103 163h1v1h-1zM86 164h1v1h-1zM102 165h1v1h-1zM103 166h2v1h-2zM88 168h2v1h-2zM102 168h2v1h-2zM89 169h1v1h-1zM88 171h1v1h-1zM90 171h1v1h-1zM102 171h1v1h-1zM89 172h2v1h-2zM99 172h1v1h-1zM91 173h2v1h-2zM100 173h1v1h-1zM92 174h1v1h-1zM99 174h1v1h-1zM94 175h1v1h-1zM93 176h1v1h-1z"/>
<path fill="#8a8a8a" d="M43 117h1v1h-1zM36 120h1v1h-1zM37 122h1v1h-1zM51 123h1v1h-1zM31 124h1v1h-1zM47 124h1v1h-1zM54 124h1v1h-1zM49 126h1v1h-1zM42 127h1v1h-1zM45 127h1v1h-1zM53 127h1v1h-1zM75 127h1v1h-1zM43 128h1v1h-1zM45 128h1v1h-1zM41 129h2v1h-2zM47 130h1v1h-1zM73 130h1v1h-1zM47 131h1v1h-1zM51 131h1v1h-1zM36 132h1v1h-1zM42 132h1v1h-1zM44 132h1v1h-1zM50 132h1v1h-1zM53 132h1v1h-1zM76 132h1v1h-1zM35 133h1v1h-1zM40 133h2v1h-2zM48 133h1v1h-1zM87 133h1v1h-1zM33 134h1v1h-1zM41 134h1v1h-1zM45 134h1v1h-1zM50 134h1v1h-1zM41 135h2v1h-2zM55 135h1v1h-1zM36 136h2v1h-2zM43 136h1v1h-1zM46 136h1v1h-1zM71 136h1v1h-1zM41 137h2v1h-2zM47 137h1v1h-1zM50 137h1v1h-1zM52 137h1v1h-1zM28 138h1v1h-1zM45 138h1v1h-1zM50 138h1v1h-1zM44 139h1v1h-1zM47 139h1v1h-1zM53 139h1v1h-1zM59 139h1v1h-1zM93 139h1v1h-1zM38 140h1v1h-1zM42 140h1v1h-1zM44 140h1v1h-1zM46 140h1v1h-1zM48 140h1v1h-1zM92 140h1v1h-1zM35 141h1v1h-1zM45 141h2v1h-2zM68 141h1v1h-1zM45 142h1v1h-1zM63 142h1v1h-1zM65 142h1v1h-1zM35 143h1v1h-1zM56 143h1v1h-1zM62 143h1v1h-1zM76 143h1v1h-1zM46 144h1v1h-1zM56 144h1v1h-1zM64 144h1v1h-1zM82 144h1v1h-1zM59 145h1v1h-1zM65 145h1v1h-1zM67 145h3v1h-3zM72 145h2v1h-2zM82 145h1v1h-1zM58 146h3v1h-3zM67 146h2v1h-2zM89 146h1v1h-1zM100 146h1v1h-1zM43 147h1v1h-1zM46 147h1v1h-1zM63 147h1v1h-1zM84 147h1v1h-1zM88 147h1v1h-1zM106 147h1v1h-1zM87 148h1v1h-1zM94 148h1v1h-1zM97 148h1v1h-1zM100 148h1v1h-1zM105 148h1v1h-1zM53 149h1v1h-1zM55 149h1v1h-1zM57 149h1v1h-1zM99 149h1v1h-1zM102 149h1v1h-1zM104 149h1v1h-1zM57 150h1v1h-1zM62 150h1v1h-1zM105 150h1v1h-1zM43 151h1v1h-1zM61 151h1v1h-1zM64 151h1v1h-1zM106 152h1v1h-1zM62 153h1v1h-1zM66 153h1v1h-1zM38 154h1v1h-1zM54 154h1v1h-1zM61 154h1v1h-1zM64 154h3v1h-3zM59 155h1v1h-1zM61 155h1v1h-1zM70 155h1v1h-1zM72 158h1v1h-1zM75 158h1v1h-1zM79 159h1v1h-1zM66 160h1v1h-1zM73 160h1v1h-1zM82 162h1v1h-1zM81 163h1v1h-1zM83 164h1v1h-1zM85 165h1v1h-1zM67 166h1v1h-1zM62 168h1v1h-1zM82 170h1v1h-1zM104 170h1v1h-1zM105 171h1v1h-1zM29 172h1v1h-1zM85 172h1v1h-1zM87 172h1v1h-1zM103 172h1v1h-1zM103 173h1v1h-1zM29 174h1v1h-1zM88 174h1v1h-1zM84 175h1v1h-1zM75 176h1v1h-1zM90 176h1v1h-1zM92 176h1v1h-1zM74 177h1v1h-1zM82 177h1v1h-1zM94 177h1v1h-1zM88 178h1v1h-1zM95 178h1v1h-1zM98 178h1v1h-1zM102 178h1v1h-1zM89 179h1v1h-1zM97 179h1v1h-1zM95 181h1v1h-1zM84 182h2v1h-2z"/>
</g>
<path d="M25.7 114H107.1V184" fill="none" stroke="#222" stroke-width="1.1"/>
<path d="M25.7 113.5V184H107.6" fill="none" stroke="#000" stroke-width="1.6"/>
<path stroke="#222" stroke-width="1" fill="none" d="M60.6 114V184M25.7 154H107.1"/>
<path stroke="#111" stroke-width="1" d="M25.7 114h-1.6M25.7 184v1.6M25.7 131.5h-1.6M46 184v1.6M25.7 149h-1.6M66.4 184v1.6M25.7 166.5h-1.6M86.8 184v1.6M25.7 184h-1.6M107.1 184v1.6"/>
<text x="22.7" y="117.6" font-size="5.8" fill="#111" stroke="#222" stroke-width="0.25" font-family="Liberation Serif" font-weight="bold" text-anchor="end">10<tspan font-size="3.9" dy="-2.2">4</tspan></text>
<text x="27.5" y="192.2" font-size="5.8" fill="#111" stroke="#222" stroke-width="0.25" font-family="Liberation Serif" font-weight="bold" text-anchor="middle">10<tspan font-size="3.9" dy="-2.2">0</tspan></text>
<text x="22.7" y="135.1" font-size="5.8" fill="#111" stroke="#222" stroke-width="0.25" font-family="Liberation Serif" font-weight="bold" text-anchor="end">10<tspan font-size="3.9" dy="-2.2">3</tspan></text>
<text x="47.8" y="192.2" font-size="5.8" fill="#111" stroke="#222" stroke-width="0.25" font-family="Liberation Serif" font-weight="bold" text-anchor="middle">10<tspan font-size="3.9" dy="-2.2">1</tspan></text>
<text x="22.7" y="152.6" font-size="5.8" fill="#111" stroke="#222" stroke-width="0.25" font-family="Liberation Serif" font-weight="bold" text-anchor="end">10<tspan font-size="3.9" dy="-2.2">2</tspan></text>
<text x="68.2" y="192.2" font-size="5.8" fill="#111" stroke="#222" stroke-width="0.25" font-family="Liberation Serif" font-weight="bold" text-anchor="middle">10<tspan font-size="3.9" dy="-2.2">2</tspan></text>
<text x="22.7" y="170.1" font-size="5.8" fill="#111" stroke="#222" stroke-width="0.25" font-family="Liberation Serif" font-weight="bold" text-anchor="end">10<tspan font-size="3.9" dy="-2.2">1</tspan></text>
<text x="88.5" y="192.2" font-size="5.8" fill="#111" stroke="#222" stroke-width="0.25" font-family="Liberation Serif" font-weight="bold" text-anchor="middle">10<tspan font-size="3.9" dy="-2.2">3</tspan></text>
<text x="22.7" y="186.2" font-size="5.8" fill="#111" stroke="#222" stroke-width="0.25" font-family="Liberation Serif" font-weight="bold" text-anchor="end">10<tspan font-size="3.9" dy="-2.2">0</tspan></text>
<text x="108.9" y="192.2" font-size="5.8" fill="#111" stroke="#222" stroke-width="0.25" font-family="Liberation Serif" font-weight="bold" text-anchor="middle">10<tspan font-size="3.9" dy="-2.2">4</tspan></text>
<text x="32.6" y="122.3" font-size="8" font-family="Liberation Serif" font-weight="bold" text-anchor="start" stroke="#fff" stroke-width="1.6" stroke-linejoin="round">6.7</text>
<text x="32.6" y="122.3" font-size="8" font-family="Liberation Serif" font-weight="bold" text-anchor="start" stroke="#000" stroke-width="0.45">6.7</text>
<text x="106.6" y="121.9" font-size="8" font-family="Liberation Serif" font-weight="bold" text-anchor="end" stroke="#fff" stroke-width="1.6" stroke-linejoin="round">9.5</text>
<text x="106.6" y="121.9" font-size="8" font-family="Liberation Serif" font-weight="bold" text-anchor="end" stroke="#000" stroke-width="0.45">9.5</text>
<text x="32.6" y="182.5" font-size="8" font-family="Liberation Serif" font-weight="bold" text-anchor="start" stroke="#fff" stroke-width="1.6" stroke-linejoin="round">0.6</text>
<text x="32.6" y="182.5" font-size="8" font-family="Liberation Serif" font-weight="bold" text-anchor="start" stroke="#000" stroke-width="0.45">0.6</text>
<text x="67" y="182.5" font-size="8" font-family="Liberation Serif" font-weight="bold" text-anchor="start" stroke="#fff" stroke-width="1.6" stroke-linejoin="round">83.2</text>
<text x="67" y="182.5" font-size="8" font-family="Liberation Serif" font-weight="bold" text-anchor="start" stroke="#000" stroke-width="0.45">83.2</text>
<g filter="url(#bl)">
<path fill="#000" d="M141 117h1v1h-1zM145 125h1v1h-1zM151 125h1v1h-1zM155 128h1v1h-1zM171 129h1v1h-1zM144 130h2v1h-2zM149 130h1v1h-1zM153 130h1v1h-1zM151 131h1v1h-1zM209 131h1v1h-1zM141 132h3v1h-3zM149 132h1v1h-1zM149 133h1v1h-1zM149 134h1v1h-1zM151 134h2v1h-2zM146 135h1v1h-1zM149 135h1v1h-1zM144 136h1v1h-1zM146 136h3v1h-3zM153 136h1v1h-1zM155 136h1v1h-1zM148 137h1v1h-1zM157 137h1v1h-1zM164 137h1v1h-1zM133 138h1v1h-1zM139 139h1v1h-1zM160 139h1v1h-1zM147 140h1v1h-1zM155 140h1v1h-1zM159 140h1v1h-1zM142 141h1v1h-1zM157 141h1v1h-1zM164 141h1v1h-1zM174 141h1v1h-1zM148 142h1v1h-1zM164 142h1v1h-1zM172 142h1v1h-1zM197 142h1v1h-1zM150 143h2v1h-2zM165 143h1v1h-1zM189 143h1v1h-1zM202 143h1v1h-1zM147 144h1v1h-1zM161 144h1v1h-1zM169 144h1v1h-1zM171 144h3v1h-3zM180 144h1v1h-1zM196 144h1v1h-1zM200 144h1v1h-1zM143 145h1v1h-1zM149 145h1v1h-1zM166 145h1v1h-1zM169 145h1v1h-1zM174 145h1v1h-1zM180 145h1v1h-1zM182 145h2v1h-2zM159 146h1v1h-1zM169 146h1v1h-1zM172 146h2v1h-2zM177 146h1v1h-1zM182 146h1v1h-1zM194 146h1v1h-1zM199 146h1v1h-1zM153 147h1v1h-1zM156 147h1v1h-1zM164 147h1v1h-1zM170 147h1v1h-1zM179 147h1v1h-1zM182 147h1v1h-1zM186 147h2v1h-2zM191 147h1v1h-1zM200 147h1v1h-1zM162 148h1v1h-1zM164 148h1v1h-1zM167 148h1v1h-1zM174 148h1v1h-1zM183 148h1v1h-1zM185 148h1v1h-1zM198 148h1v1h-1zM147 149h1v1h-1zM166 149h2v1h-2zM179 149h1v1h-1zM182 149h5v1h-5zM188 149h1v1h-1zM191 149h3v1h-3zM201 149h2v1h-2zM206 149h1v1h-1zM208 149h1v1h-1zM167 150h3v1h-3zM174 150h2v1h-2zM177 150h1v1h-1zM185 150h1v1h-1zM187 150h1v1h-1zM190 150h1v1h-1zM199 150h2v1h-2zM204 150h1v1h-1zM209 150h1v1h-1zM152 151h1v1h-1zM166 151h1v1h-1zM168 151h1v1h-1zM172 151h1v1h-1zM177 151h1v1h-1zM189 151h1v1h-1zM191 151h4v1h-4zM196 151h1v1h-1zM198 151h4v1h-4zM204 151h1v1h-1zM165 152h3v1h-3zM172 152h1v1h-1zM179 152h2v1h-2zM182 152h2v1h-2zM186 152h1v1h-1zM188 152h2v1h-2zM192 152h7v1h-7zM200 152h4v1h-4zM207 152h1v1h-1zM209 152h1v1h-1zM160 153h1v1h-1zM174 153h4v1h-4zM180 153h2v1h-2zM186 153h20v1h-20zM207 153h2v1h-2zM210 153h1v1h-1zM174 154h1v1h-1zM176 154h4v1h-4zM181 154h3v1h-3zM185 154h20v1h-20zM206 154h1v1h-1zM210 154h1v1h-1zM167 155h1v1h-1zM182 155h1v1h-1zM184 155h3v1h-3zM188 155h18v1h-18zM207 155h2v1h-2zM177 156h1v1h-1zM184 156h18v1h-18zM203 156h5v1h-5zM210 156h1v1h-1zM173 157h1v1h-1zM175 157h2v1h-2zM179 157h1v1h-1zM182 157h2v1h-2zM185 157h25v1h-25zM169 158h1v1h-1zM183 158h2v1h-2zM187 158h1v1h-1zM191 158h13v1h-13zM205 158h1v1h-1zM207 158h1v1h-1zM182 159h2v1h-2zM187 159h19v1h-19zM207 159h1v1h-1zM187 160h2v1h-2zM190 160h17v1h-17zM209 160h1v1h-1zM188 161h2v1h-2zM191 161h8v1h-8zM200 161h5v1h-5zM183 162h1v1h-1zM190 162h19v1h-19zM176 163h1v1h-1zM184 163h1v1h-1zM187 163h1v1h-1zM189 163h17v1h-17zM208 163h3v1h-3zM184 164h1v1h-1zM186 164h2v1h-2zM189 164h1v1h-1zM191 164h1v1h-1zM193 164h1v1h-1zM195 164h11v1h-11zM209 164h1v1h-1zM187 165h3v1h-3zM191 165h15v1h-15zM180 166h1v1h-1zM185 166h1v1h-1zM187 166h1v1h-1zM189 166h1v1h-1zM192 166h14v1h-14zM208 166h1v1h-1zM191 167h8v1h-8zM200 167h4v1h-4zM205 167h3v1h-3zM210 167h1v1h-1zM192 168h12v1h-12zM206 168h1v1h-1zM209 168h1v1h-1zM192 169h13v1h-13zM187 170h2v1h-2zM190 170h1v1h-1zM192 170h1v1h-1zM194 170h6v1h-6zM201 170h3v1h-3zM206 170h1v1h-1zM208 170h1v1h-1zM193 171h1v1h-1zM195 171h1v1h-1zM197 171h7v1h-7zM206 171h1v1h-1zM209 171h2v1h-2zM189 172h1v1h-1zM191 172h1v1h-1zM195 172h9v1h-9zM205 172h1v1h-1zM195 173h7v1h-7zM190 174h1v1h-1zM194 174h1v1h-1zM196 174h2v1h-2zM199 174h3v1h-3zM203 174h1v1h-1zM206 174h1v1h-1zM165 175h1v1h-1zM194 175h1v1h-1zM198 175h1v1h-1zM201 175h1v1h-1zM197 176h1v1h-1zM202 176h1v1h-1zM199 177h2v1h-2zM202 177h1v1h-1zM202 178h1v1h-1zM204 179h1v1h-1zM177 180h1v1h-1zM202 180h2v1h-2z"/>
<path fill="#3a3a3a" d="M176 146h1v1h-1zM180 146h1v1h-1zM171 147h2v1h-2zM174 147h1v1h-1zM184 147h1v1h-1zM175 148h2v1h-2zM178 148h1v1h-1zM182 148h1v1h-1zM186 148h1v1h-1zM189 148h2v1h-2zM192 148h1v1h-1zM169 149h2v1h-2zM177 149h2v1h-2zM197 149h1v1h-1zM170 150h1v1h-1zM172 150h2v1h-2zM176 150h1v1h-1zM180 150h1v1h-1zM182 150h1v1h-1zM192 150h1v1h-1zM194 150h1v1h-1zM197 150h1v1h-1zM201 150h1v1h-1zM171 151h1v1h-1zM175 151h1v1h-1zM178 151h2v1h-2zM181 151h2v1h-2zM185 151h1v1h-1zM187 151h1v1h-1zM205 151h2v1h-2zM171 152h1v1h-1zM176 152h1v1h-1zM184 152h2v1h-2zM187 152h1v1h-1zM205 152h2v1h-2zM171 153h1v1h-1zM178 153h2v1h-2zM183 153h3v1h-3zM206 153h1v1h-1zM173 154h1v1h-1zM175 154h1v1h-1zM184 154h1v1h-1zM177 155h1v1h-1zM209 155h2v1h-2zM183 156h1v1h-1zM180 157h2v1h-2zM184 157h1v1h-1zM181 158h1v1h-1zM209 159h1v1h-1zM185 160h1v1h-1zM207 160h1v1h-1zM208 161h1v1h-1zM185 162h2v1h-2zM189 162h1v1h-1zM209 162h1v1h-1zM206 163h2v1h-2zM188 164h1v1h-1zM190 164h1v1h-1zM206 164h3v1h-3zM190 165h1v1h-1zM188 166h1v1h-1zM206 166h1v1h-1zM189 168h3v1h-3zM205 169h1v1h-1zM207 169h1v1h-1zM205 170h1v1h-1zM191 171h1v1h-1zM204 171h1v1h-1zM194 172h1v1h-1zM193 173h1v1h-1zM204 173h2v1h-2zM202 174h1v1h-1zM204 174h1v1h-1zM195 175h1v1h-1zM197 175h1v1h-1zM199 175h1v1h-1zM199 176h1v1h-1z"/>
<path fill="#8a8a8a" d="M135 116h1v1h-1zM140 116h1v1h-1zM172 117h1v1h-1zM146 119h1v1h-1zM171 120h1v1h-1zM148 121h1v1h-1zM144 122h1v1h-1zM136 124h1v1h-1zM142 124h1v1h-1zM156 125h1v1h-1zM137 126h1v1h-1zM151 126h1v1h-1zM154 126h1v1h-1zM142 127h1v1h-1zM150 127h1v1h-1zM140 128h1v1h-1zM136 130h1v1h-1zM142 130h1v1h-1zM147 131h1v1h-1zM149 131h1v1h-1zM153 132h1v1h-1zM141 134h1v1h-1zM145 134h1v1h-1zM147 134h1v1h-1zM148 135h1v1h-1zM145 137h1v1h-1zM154 137h1v1h-1zM148 138h1v1h-1zM151 138h2v1h-2zM144 139h1v1h-1zM151 139h1v1h-1zM165 139h1v1h-1zM160 140h1v1h-1zM188 140h1v1h-1zM166 141h1v1h-1zM169 141h1v1h-1zM176 141h1v1h-1zM180 141h1v1h-1zM159 142h1v1h-1zM176 142h1v1h-1zM147 143h1v1h-1zM178 143h1v1h-1zM200 143h1v1h-1zM204 143h1v1h-1zM152 144h1v1h-1zM154 144h1v1h-1zM170 144h1v1h-1zM174 144h1v1h-1zM186 144h1v1h-1zM188 144h1v1h-1zM144 145h1v1h-1zM164 145h1v1h-1zM179 145h1v1h-1zM184 145h1v1h-1zM194 145h1v1h-1zM146 146h1v1h-1zM155 146h1v1h-1zM163 146h1v1h-1zM171 146h1v1h-1zM184 146h2v1h-2zM193 146h1v1h-1zM197 146h1v1h-1zM150 147h1v1h-1zM163 147h1v1h-1zM165 147h1v1h-1zM168 147h1v1h-1zM188 147h1v1h-1zM192 147h1v1h-1zM155 148h1v1h-1zM158 148h1v1h-1zM165 148h1v1h-1zM196 148h2v1h-2zM164 149h1v1h-1zM203 149h1v1h-1zM209 149h1v1h-1zM159 150h1v1h-1zM166 150h1v1h-1zM167 151h1v1h-1zM164 153h1v1h-1zM169 153h1v1h-1zM171 156h2v1h-2zM174 156h2v1h-2zM169 157h1v1h-1zM174 157h1v1h-1zM165 158h1v1h-1zM179 158h1v1h-1zM171 159h1v1h-1zM174 159h1v1h-1zM181 159h1v1h-1zM169 160h1v1h-1zM178 160h1v1h-1zM160 162h1v1h-1zM184 162h1v1h-1zM177 165h1v1h-1zM210 166h1v1h-1zM171 167h1v1h-1zM187 168h1v1h-1zM208 168h1v1h-1zM189 171h1v1h-1zM172 172h1v1h-1zM185 172h2v1h-2zM204 175h2v1h-2zM193 176h1v1h-1zM201 178h1v1h-1zM181 179h1v1h-1zM133 180h1v1h-1zM184 180h1v1h-1z"/>
</g>
<path d="M131 114H211.7V183.6" fill="none" stroke="#222" stroke-width="1.1"/>
<path d="M131 113.5V183.6H212.2" fill="none" stroke="#000" stroke-width="1.6"/>
<path stroke="#222" stroke-width="1" fill="none" d="M165.3 114V183.6M131 154H211.7"/>
<path stroke="#111" stroke-width="1" d="M131 114h-1.6M131 183.6v1.6M131 131.4h-1.6M151.2 183.6v1.6M131 148.8h-1.6M171.3 183.6v1.6M131 166.2h-1.6M191.5 183.6v1.6M131 183.6h-1.6M211.7 183.6v1.6"/>
<text x="128" y="117.6" font-size="5.8" fill="#111" stroke="#222" stroke-width="0.25" font-family="Liberation Serif" font-weight="bold" text-anchor="end">10<tspan font-size="3.9" dy="-2.2">4</tspan></text>
<text x="132.8" y="191.8" font-size="5.8" fill="#111" stroke="#222" stroke-width="0.25" font-family="Liberation Serif" font-weight="bold" text-anchor="middle">10<tspan font-size="3.9" dy="-2.2">0</tspan></text>
<text x="128" y="135" font-size="5.8" fill="#111" stroke="#222" stroke-width="0.25" font-family="Liberation Serif" font-weight="bold" text-anchor="end">10<tspan font-size="3.9" dy="-2.2">3</tspan></text>
<text x="153" y="191.8" font-size="5.8" fill="#111" stroke="#222" stroke-width="0.25" font-family="Liberation Serif" font-weight="bold" text-anchor="middle">10<tspan font-size="3.9" dy="-2.2">1</tspan></text>
<text x="128" y="152.4" font-size="5.8" fill="#111" stroke="#222" stroke-width="0.25" font-family="Liberation Serif" font-weight="bold" text-anchor="end">10<tspan font-size="3.9" dy="-2.2">2</tspan></text>
<text x="173.2" y="191.8" font-size="5.8" fill="#111" stroke="#222" stroke-width="0.25" font-family="Liberation Serif" font-weight="bold" text-anchor="middle">10<tspan font-size="3.9" dy="-2.2">2</tspan></text>
<text x="128" y="169.8" font-size="5.8" fill="#111" stroke="#222" stroke-width="0.25" font-family="Liberation Serif" font-weight="bold" text-anchor="end">10<tspan font-size="3.9" dy="-2.2">1</tspan></text>
<text x="193.3" y="191.8" font-size="5.8" fill="#111" stroke="#222" stroke-width="0.25" font-family="Liberation Serif" font-weight="bold" text-anchor="middle">10<tspan font-size="3.9" dy="-2.2">3</tspan></text>
<text x="128" y="185.8" font-size="5.8" fill="#111" stroke="#222" stroke-width="0.25" font-family="Liberation Serif" font-weight="bold" text-anchor="end">10<tspan font-size="3.9" dy="-2.2">0</tspan></text>
<text x="213.5" y="191.8" font-size="5.8" fill="#111" stroke="#222" stroke-width="0.25" font-family="Liberation Serif" font-weight="bold" text-anchor="middle">10<tspan font-size="3.9" dy="-2.2">4</tspan></text>
<text x="132.7" y="122.3" font-size="8" font-family="Liberation Serif" font-weight="bold" text-anchor="start" stroke="#fff" stroke-width="1.6" stroke-linejoin="round">6.3</text>
<text x="132.7" y="122.3" font-size="8" font-family="Liberation Serif" font-weight="bold" text-anchor="start" stroke="#000" stroke-width="0.45">6.3</text>
<text x="210.8" y="122.3" font-size="8" font-family="Liberation Serif" font-weight="bold" text-anchor="end" stroke="#fff" stroke-width="1.6" stroke-linejoin="round">9.2</text>
<text x="210.8" y="122.3" font-size="8" font-family="Liberation Serif" font-weight="bold" text-anchor="end" stroke="#000" stroke-width="0.45">9.2</text>
<text x="134" y="182.5" font-size="8" font-family="Liberation Serif" font-weight="bold" text-anchor="start" stroke="#fff" stroke-width="1.6" stroke-linejoin="round">0.4</text>
<text x="134" y="182.5" font-size="8" font-family="Liberation Serif" font-weight="bold" text-anchor="start" stroke="#000" stroke-width="0.45">0.4</text>
<text x="173" y="182.5" font-size="8" font-family="Liberation Serif" font-weight="bold" text-anchor="start" stroke="#fff" stroke-width="1.6" stroke-linejoin="round">84.1</text>
<text x="173" y="182.5" font-size="8" font-family="Liberation Serif" font-weight="bold" text-anchor="start" stroke="#000" stroke-width="0.45">84.1</text>
<g filter="url(#bl)">
<path fill="#000" d="M42 233h1v1h-1zM42 234h1v1h-1zM53 234h1v1h-1zM41 235h1v1h-1zM59 235h1v1h-1zM45 236h1v1h-1zM49 236h2v1h-2zM52 236h1v1h-1zM105 236h1v1h-1zM49 237h2v1h-2zM56 237h1v1h-1zM43 238h1v1h-1zM48 238h2v1h-2zM77 238h1v1h-1zM38 239h1v1h-1zM49 239h1v1h-1zM51 239h1v1h-1zM49 240h1v1h-1zM51 240h5v1h-5zM57 240h1v1h-1zM60 240h1v1h-1zM62 240h1v1h-1zM42 241h1v1h-1zM49 241h2v1h-2zM52 241h1v1h-1zM56 241h1v1h-1zM60 241h1v1h-1zM47 242h1v1h-1zM53 242h2v1h-2zM56 242h1v1h-1zM58 242h2v1h-2zM63 242h1v1h-1zM71 242h1v1h-1zM91 242h1v1h-1zM48 243h1v1h-1zM50 243h1v1h-1zM56 243h1v1h-1zM58 243h1v1h-1zM62 243h1v1h-1zM87 243h1v1h-1zM91 243h1v1h-1zM44 244h1v1h-1zM47 244h3v1h-3zM51 244h4v1h-4zM56 244h1v1h-1zM58 244h3v1h-3zM67 244h1v1h-1zM72 244h1v1h-1zM77 244h2v1h-2zM83 244h2v1h-2zM86 244h1v1h-1zM91 244h1v1h-1zM38 245h1v1h-1zM41 245h1v1h-1zM43 245h1v1h-1zM45 245h1v1h-1zM47 245h1v1h-1zM49 245h2v1h-2zM52 245h2v1h-2zM57 245h1v1h-1zM60 245h1v1h-1zM62 245h1v1h-1zM72 245h1v1h-1zM81 245h2v1h-2zM84 245h2v1h-2zM91 245h1v1h-1zM98 245h1v1h-1zM40 246h1v1h-1zM46 246h2v1h-2zM51 246h2v1h-2zM57 246h2v1h-2zM61 246h1v1h-1zM66 246h1v1h-1zM80 246h1v1h-1zM86 246h2v1h-2zM94 246h1v1h-1zM47 247h1v1h-1zM52 247h1v1h-1zM54 247h1v1h-1zM60 247h2v1h-2zM63 247h2v1h-2zM66 247h1v1h-1zM70 247h1v1h-1zM72 247h1v1h-1zM74 247h2v1h-2zM78 247h1v1h-1zM80 247h1v1h-1zM82 247h10v1h-10zM96 247h2v1h-2zM53 248h1v1h-1zM56 248h2v1h-2zM59 248h2v1h-2zM65 248h1v1h-1zM68 248h3v1h-3zM73 248h1v1h-1zM75 248h4v1h-4zM80 248h13v1h-13zM94 248h2v1h-2zM97 248h1v1h-1zM45 249h1v1h-1zM51 249h1v1h-1zM56 249h1v1h-1zM59 249h1v1h-1zM62 249h3v1h-3zM70 249h1v1h-1zM74 249h13v1h-13zM88 249h8v1h-8zM100 249h1v1h-1zM103 249h1v1h-1zM51 250h1v1h-1zM59 250h1v1h-1zM61 250h4v1h-4zM67 250h2v1h-2zM73 250h1v1h-1zM75 250h15v1h-15zM91 250h6v1h-6zM98 250h1v1h-1zM102 250h1v1h-1zM43 251h1v1h-1zM56 251h1v1h-1zM58 251h1v1h-1zM62 251h1v1h-1zM65 251h1v1h-1zM69 251h1v1h-1zM72 251h22v1h-22zM95 251h2v1h-2zM60 252h1v1h-1zM62 252h1v1h-1zM69 252h2v1h-2zM72 252h4v1h-4zM77 252h20v1h-20zM100 252h1v1h-1zM67 253h1v1h-1zM69 253h1v1h-1zM71 253h1v1h-1zM74 253h1v1h-1zM76 253h2v1h-2zM79 253h18v1h-18zM98 253h2v1h-2zM102 253h1v1h-1zM69 254h2v1h-2zM75 254h11v1h-11zM87 254h11v1h-11zM99 254h1v1h-1zM63 255h1v1h-1zM75 255h7v1h-7zM83 255h15v1h-15zM105 255h1v1h-1zM74 256h1v1h-1zM79 256h1v1h-1zM81 256h18v1h-18zM100 256h1v1h-1zM78 257h2v1h-2zM83 257h6v1h-6zM90 257h4v1h-4zM97 257h1v1h-1zM100 257h1v1h-1zM86 258h2v1h-2zM89 258h1v1h-1zM92 258h1v1h-1zM95 258h1v1h-1zM69 259h1v1h-1zM79 259h1v1h-1zM87 259h1v1h-1zM90 259h3v1h-3zM96 259h1v1h-1zM98 259h1v1h-1zM80 260h1v1h-1zM87 260h2v1h-2zM90 260h1v1h-1zM93 260h1v1h-1zM97 260h1v1h-1zM100 260h1v1h-1zM91 261h1v1h-1zM96 261h1v1h-1zM83 263h1v1h-1zM98 264h1v1h-1z"/>
<path fill="#3a3a3a" d="M51 238h1v1h-1zM46 239h1v1h-1zM50 239h1v1h-1zM52 239h2v1h-2zM46 240h1v1h-1zM58 241h1v1h-1zM48 242h1v1h-1zM51 242h2v1h-2zM57 242h1v1h-1zM45 243h1v1h-1zM47 243h1v1h-1zM49 243h1v1h-1zM51 243h2v1h-2zM55 243h1v1h-1zM50 244h1v1h-1zM55 244h1v1h-1zM48 245h1v1h-1zM54 245h2v1h-2zM58 245h1v1h-1zM61 245h1v1h-1zM78 245h1v1h-1zM87 245h2v1h-2zM90 245h1v1h-1zM48 246h1v1h-1zM53 246h1v1h-1zM62 246h1v1h-1zM67 246h2v1h-2zM70 246h1v1h-1zM72 246h1v1h-1zM78 246h2v1h-2zM81 246h1v1h-1zM83 246h1v1h-1zM85 246h1v1h-1zM88 246h1v1h-1zM91 246h1v1h-1zM59 247h1v1h-1zM65 247h1v1h-1zM68 247h1v1h-1zM76 247h2v1h-2zM49 248h1v1h-1zM52 248h1v1h-1zM62 248h1v1h-1zM67 248h1v1h-1zM71 248h2v1h-2zM74 248h1v1h-1zM93 248h1v1h-1zM96 248h1v1h-1zM53 249h1v1h-1zM65 249h3v1h-3zM71 249h1v1h-1zM97 249h1v1h-1zM57 250h1v1h-1zM66 250h1v1h-1zM69 250h4v1h-4zM67 251h1v1h-1zM71 251h1v1h-1zM97 251h1v1h-1zM68 252h1v1h-1zM99 252h1v1h-1zM101 252h1v1h-1zM72 253h1v1h-1zM75 253h1v1h-1zM98 254h1v1h-1zM101 254h1v1h-1zM77 256h1v1h-1zM81 257h2v1h-2zM99 257h1v1h-1zM81 258h1v1h-1zM90 258h1v1h-1zM93 258h1v1h-1zM83 259h1v1h-1zM93 259h1v1h-1z"/>
<path fill="#8a8a8a" d="M52 208h1v1h-1zM79 212h1v1h-1zM43 213h1v1h-1zM100 214h1v1h-1zM75 215h1v1h-1zM48 217h1v1h-1zM89 217h1v1h-1zM48 220h1v1h-1zM98 220h1v1h-1zM48 225h1v1h-1zM76 228h1v1h-1zM60 230h1v1h-1zM53 231h1v1h-1zM48 233h1v1h-1zM51 234h1v1h-1zM44 235h1v1h-1zM51 235h1v1h-1zM36 236h1v1h-1zM48 237h1v1h-1zM51 237h1v1h-1zM60 237h1v1h-1zM74 238h1v1h-1zM93 238h1v1h-1zM42 239h1v1h-1zM60 239h1v1h-1zM41 240h1v1h-1zM59 240h1v1h-1zM81 241h1v1h-1zM92 241h1v1h-1zM60 242h1v1h-1zM32 243h1v1h-1zM41 243h1v1h-1zM63 243h1v1h-1zM67 243h1v1h-1zM73 243h1v1h-1zM43 244h1v1h-1zM63 244h1v1h-1zM66 244h1v1h-1zM70 244h1v1h-1zM79 244h1v1h-1zM85 244h1v1h-1zM97 244h1v1h-1zM104 244h1v1h-1zM65 245h2v1h-2zM92 245h1v1h-1zM99 245h1v1h-1zM41 246h1v1h-1zM44 247h1v1h-1zM104 247h1v1h-1zM48 248h1v1h-1zM100 248h1v1h-1zM99 249h1v1h-1zM102 249h1v1h-1zM48 250h1v1h-1zM52 250h1v1h-1zM56 250h1v1h-1zM60 251h1v1h-1zM43 252h1v1h-1zM47 252h1v1h-1zM51 252h1v1h-1zM55 252h1v1h-1zM57 252h1v1h-1zM61 252h1v1h-1zM63 252h1v1h-1zM102 252h1v1h-1zM105 252h1v1h-1zM58 253h1v1h-1zM60 253h1v1h-1zM63 253h1v1h-1zM66 253h1v1h-1zM71 254h1v1h-1zM62 255h1v1h-1zM70 255h1v1h-1zM73 255h1v1h-1zM68 256h1v1h-1zM76 257h1v1h-1zM62 258h1v1h-1zM70 258h1v1h-1zM77 258h1v1h-1zM98 258h2v1h-2zM76 259h1v1h-1zM97 259h1v1h-1zM104 259h1v1h-1zM70 260h1v1h-1zM79 260h1v1h-1zM89 260h1v1h-1zM92 260h1v1h-1zM94 261h1v1h-1zM76 262h1v1h-1zM80 262h1v1h-1zM97 264h1v1h-1z"/>
</g>
<path d="M26 205.5H107V274.5" fill="none" stroke="#222" stroke-width="1.1"/>
<path d="M26 205V274.5H107.5" fill="none" stroke="#000" stroke-width="1.6"/>
<path stroke="#222" stroke-width="1" fill="none" d="M61.5 205.5V274.5M26 246H107"/>
<path stroke="#111" stroke-width="1" d="M26 205.5h-1.6M26 274.5v1.6M26 222.8h-1.6M46.2 274.5v1.6M26 240h-1.6M66.5 274.5v1.6M26 257.2h-1.6M86.8 274.5v1.6M26 274.5h-1.6M107 274.5v1.6"/>
<text x="23" y="209.1" font-size="5.8" fill="#111" stroke="#222" stroke-width="0.25" font-family="Liberation Serif" font-weight="bold" text-anchor="end">10<tspan font-size="3.9" dy="-2.2">4</tspan></text>
<text x="27.8" y="282.6" font-size="5.8" fill="#111" stroke="#222" stroke-width="0.25" font-family="Liberation Serif" font-weight="bold" text-anchor="middle">10<tspan font-size="3.9" dy="-2.2">0</tspan></text>
<text x="23" y="226.3" font-size="5.8" fill="#111" stroke="#222" stroke-width="0.25" font-family="Liberation Serif" font-weight="bold" text-anchor="end">10<tspan font-size="3.9" dy="-2.2">3</tspan></text>
<text x="48" y="282.6" font-size="5.8" fill="#111" stroke="#222" stroke-width="0.25" font-family="Liberation Serif" font-weight="bold" text-anchor="middle">10<tspan font-size="3.9" dy="-2.2">1</tspan></text>
<text x="23" y="243.6" font-size="5.8" fill="#111" stroke="#222" stroke-width="0.25" font-family="Liberation Serif" font-weight="bold" text-anchor="end">10<tspan font-size="3.9" dy="-2.2">2</tspan></text>
<text x="68.3" y="282.6" font-size="5.8" fill="#111" stroke="#222" stroke-width="0.25" font-family="Liberation Serif" font-weight="bold" text-anchor="middle">10<tspan font-size="3.9" dy="-2.2">2</tspan></text>
<text x="23" y="260.9" font-size="5.8" fill="#111" stroke="#222" stroke-width="0.25" font-family="Liberation Serif" font-weight="bold" text-anchor="end">10<tspan font-size="3.9" dy="-2.2">1</tspan></text>
<text x="88.5" y="282.6" font-size="5.8" fill="#111" stroke="#222" stroke-width="0.25" font-family="Liberation Serif" font-weight="bold" text-anchor="middle">10<tspan font-size="3.9" dy="-2.2">3</tspan></text>
<text x="23" y="276.7" font-size="5.8" fill="#111" stroke="#222" stroke-width="0.25" font-family="Liberation Serif" font-weight="bold" text-anchor="end">10<tspan font-size="3.9" dy="-2.2">0</tspan></text>
<text x="108.8" y="282.6" font-size="5.8" fill="#111" stroke="#222" stroke-width="0.25" font-family="Liberation Serif" font-weight="bold" text-anchor="middle">10<tspan font-size="3.9" dy="-2.2">4</tspan></text>
<text x="27.2" y="211.9" font-size="8" font-family="Liberation Serif" font-weight="bold" text-anchor="start" stroke="#fff" stroke-width="1.6" stroke-linejoin="round">12.5</text>
<text x="27.2" y="211.9" font-size="8" font-family="Liberation Serif" font-weight="bold" text-anchor="start" stroke="#000" stroke-width="0.45">12.5</text>
<text x="106.7" y="211.9" font-size="8" font-family="Liberation Serif" font-weight="bold" text-anchor="end" stroke="#fff" stroke-width="1.6" stroke-linejoin="round">0.8</text>
<text x="106.7" y="211.9" font-size="8" font-family="Liberation Serif" font-weight="bold" text-anchor="end" stroke="#000" stroke-width="0.45">0.8</text>
<text x="32.6" y="273" font-size="8" font-family="Liberation Serif" font-weight="bold" text-anchor="start" stroke="#fff" stroke-width="1.6" stroke-linejoin="round">9.3</text>
<text x="32.6" y="273" font-size="8" font-family="Liberation Serif" font-weight="bold" text-anchor="start" stroke="#000" stroke-width="0.45">9.3</text>
<text x="106.4" y="272.7" font-size="8" font-family="Liberation Serif" font-weight="bold" text-anchor="end" stroke="#fff" stroke-width="1.6" stroke-linejoin="round">77.4</text>
<text x="106.4" y="272.7" font-size="8" font-family="Liberation Serif" font-weight="bold" text-anchor="end" stroke="#000" stroke-width="0.45">77.4</text>
<g filter="url(#bl)">
<path fill="#000" d="M157 210h1v1h-1zM160 216h1v1h-1zM150 222h1v1h-1zM149 227h1v1h-1zM151 227h1v1h-1zM147 229h1v1h-1zM157 230h1v1h-1zM138 232h1v1h-1zM155 233h1v1h-1zM141 234h1v1h-1zM155 234h1v1h-1zM152 235h1v1h-1zM136 236h1v1h-1zM149 236h1v1h-1zM152 236h3v1h-3zM176 236h1v1h-1zM143 237h1v1h-1zM149 237h1v1h-1zM166 237h1v1h-1zM148 238h1v1h-1zM151 238h1v1h-1zM145 239h1v1h-1zM156 240h1v1h-1zM158 240h1v1h-1zM164 240h1v1h-1zM196 240h1v1h-1zM149 241h1v1h-1zM163 241h2v1h-2zM169 241h1v1h-1zM143 242h1v1h-1zM147 242h1v1h-1zM153 242h2v1h-2zM158 242h1v1h-1zM161 242h2v1h-2zM171 242h1v1h-1zM186 242h1v1h-1zM188 242h1v1h-1zM203 242h1v1h-1zM144 243h1v1h-1zM151 243h2v1h-2zM156 243h1v1h-1zM159 243h1v1h-1zM162 243h1v1h-1zM181 243h1v1h-1zM194 243h1v1h-1zM150 244h1v1h-1zM154 244h2v1h-2zM164 244h1v1h-1zM170 244h1v1h-1zM172 244h1v1h-1zM177 244h1v1h-1zM180 244h1v1h-1zM187 244h1v1h-1zM193 244h1v1h-1zM157 245h2v1h-2zM164 245h1v1h-1zM166 245h1v1h-1zM171 245h1v1h-1zM173 245h2v1h-2zM184 245h3v1h-3zM190 245h1v1h-1zM197 245h1v1h-1zM155 246h1v1h-1zM161 246h1v1h-1zM168 246h1v1h-1zM170 246h1v1h-1zM172 246h2v1h-2zM177 246h4v1h-4zM182 246h1v1h-1zM188 246h2v1h-2zM191 246h2v1h-2zM194 246h1v1h-1zM138 247h1v1h-1zM140 247h1v1h-1zM151 247h1v1h-1zM153 247h1v1h-1zM155 247h1v1h-1zM158 247h2v1h-2zM166 247h1v1h-1zM168 247h2v1h-2zM172 247h3v1h-3zM176 247h1v1h-1zM179 247h5v1h-5zM185 247h3v1h-3zM142 248h1v1h-1zM147 248h1v1h-1zM150 248h1v1h-1zM157 248h1v1h-1zM159 248h1v1h-1zM161 248h2v1h-2zM164 248h1v1h-1zM166 248h4v1h-4zM176 248h10v1h-10zM187 248h7v1h-7zM195 248h1v1h-1zM197 248h2v1h-2zM204 248h1v1h-1zM148 249h1v1h-1zM151 249h1v1h-1zM153 249h2v1h-2zM166 249h2v1h-2zM169 249h2v1h-2zM176 249h2v1h-2zM179 249h1v1h-1zM181 249h6v1h-6zM188 249h4v1h-4zM193 249h6v1h-6zM203 249h1v1h-1zM150 250h1v1h-1zM160 250h1v1h-1zM162 250h1v1h-1zM166 250h1v1h-1zM174 250h2v1h-2zM177 250h14v1h-14zM192 250h3v1h-3zM196 250h4v1h-4zM165 251h1v1h-1zM169 251h1v1h-1zM172 251h3v1h-3zM176 251h25v1h-25zM204 251h1v1h-1zM208 251h1v1h-1zM210 251h1v1h-1zM153 252h1v1h-1zM171 252h1v1h-1zM174 252h1v1h-1zM176 252h25v1h-25zM204 252h1v1h-1zM211 252h1v1h-1zM167 253h2v1h-2zM173 253h2v1h-2zM176 253h25v1h-25zM203 253h1v1h-1zM205 253h1v1h-1zM157 254h1v1h-1zM160 254h1v1h-1zM177 254h25v1h-25zM203 254h1v1h-1zM206 254h1v1h-1zM208 254h1v1h-1zM179 255h4v1h-4zM184 255h18v1h-18zM204 255h1v1h-1zM206 255h1v1h-1zM177 256h1v1h-1zM182 256h23v1h-23zM171 257h1v1h-1zM179 257h24v1h-24zM204 257h1v1h-1zM210 257h1v1h-1zM181 258h1v1h-1zM183 258h1v1h-1zM185 258h18v1h-18zM177 259h2v1h-2zM180 259h3v1h-3zM185 259h6v1h-6zM192 259h8v1h-8zM201 259h1v1h-1zM204 259h2v1h-2zM190 260h1v1h-1zM192 260h5v1h-5zM199 260h2v1h-2zM207 260h1v1h-1zM190 261h2v1h-2zM195 261h3v1h-3zM201 261h1v1h-1zM178 262h1v1h-1zM189 262h1v1h-1zM192 262h2v1h-2zM200 262h1v1h-1zM182 263h1v1h-1zM196 263h1v1h-1zM198 263h1v1h-1zM200 263h1v1h-1zM204 266h1v1h-1zM192 270h1v1h-1zM178 272h1v1h-1z"/>
<path fill="#3a3a3a" d="M155 242h1v1h-1zM153 243h2v1h-2zM157 244h3v1h-3zM166 244h1v1h-1zM150 245h2v1h-2zM154 245h3v1h-3zM159 245h1v1h-1zM163 245h1v1h-1zM167 245h1v1h-1zM169 245h2v1h-2zM175 245h1v1h-1zM177 245h1v1h-1zM180 245h1v1h-1zM182 245h1v1h-1zM188 245h2v1h-2zM150 246h1v1h-1zM153 246h2v1h-2zM162 246h1v1h-1zM164 246h1v1h-1zM166 246h1v1h-1zM174 246h3v1h-3zM183 246h1v1h-1zM187 246h1v1h-1zM152 247h1v1h-1zM160 247h1v1h-1zM164 247h1v1h-1zM171 247h1v1h-1zM177 247h2v1h-2zM192 247h1v1h-1zM194 247h1v1h-1zM197 247h1v1h-1zM152 248h1v1h-1zM156 248h1v1h-1zM171 248h2v1h-2zM194 248h1v1h-1zM156 249h1v1h-1zM161 249h2v1h-2zM165 249h1v1h-1zM171 249h1v1h-1zM174 249h1v1h-1zM199 249h1v1h-1zM155 250h1v1h-1zM157 250h1v1h-1zM159 250h1v1h-1zM165 250h1v1h-1zM168 250h1v1h-1zM172 250h2v1h-2zM167 251h1v1h-1zM175 251h1v1h-1zM201 251h1v1h-1zM175 252h1v1h-1zM171 253h1v1h-1zM202 253h1v1h-1zM173 254h1v1h-1zM176 254h1v1h-1zM202 254h1v1h-1zM177 255h2v1h-2zM203 255h1v1h-1zM178 256h1v1h-1zM203 257h1v1h-1zM180 258h1v1h-1zM182 258h1v1h-1zM203 258h2v1h-2zM202 259h1v1h-1zM185 260h1v1h-1zM188 260h2v1h-2zM197 260h1v1h-1zM202 260h2v1h-2zM186 261h1v1h-1zM193 261h2v1h-2zM191 262h1v1h-1zM194 262h1v1h-1z"/>
<path fill="#8a8a8a" d="M159 223h1v1h-1zM162 224h1v1h-1zM158 226h1v1h-1zM156 227h1v1h-1zM148 231h1v1h-1zM159 233h2v1h-2zM165 233h1v1h-1zM147 234h1v1h-1zM153 234h1v1h-1zM131 235h1v1h-1zM151 235h1v1h-1zM156 235h1v1h-1zM160 235h1v1h-1zM157 236h1v1h-1zM160 236h2v1h-2zM150 237h1v1h-1zM154 237h3v1h-3zM158 237h1v1h-1zM162 237h1v1h-1zM147 238h1v1h-1zM153 238h1v1h-1zM202 238h1v1h-1zM140 239h1v1h-1zM148 239h1v1h-1zM151 239h2v1h-2zM156 239h1v1h-1zM173 239h1v1h-1zM140 240h1v1h-1zM147 240h1v1h-1zM152 240h1v1h-1zM154 240h2v1h-2zM159 240h2v1h-2zM178 240h1v1h-1zM150 241h1v1h-1zM160 241h1v1h-1zM168 241h1v1h-1zM175 241h1v1h-1zM136 242h1v1h-1zM144 242h1v1h-1zM149 242h1v1h-1zM160 242h1v1h-1zM164 242h2v1h-2zM178 242h2v1h-2zM181 242h1v1h-1zM184 242h2v1h-2zM187 242h1v1h-1zM139 243h1v1h-1zM145 243h1v1h-1zM149 243h1v1h-1zM163 243h1v1h-1zM166 243h1v1h-1zM179 243h1v1h-1zM148 244h1v1h-1zM169 244h1v1h-1zM174 244h1v1h-1zM179 244h1v1h-1zM190 244h1v1h-1zM201 244h1v1h-1zM138 245h1v1h-1zM146 245h1v1h-1zM141 246h1v1h-1zM143 246h1v1h-1zM149 246h1v1h-1zM196 246h1v1h-1zM203 246h1v1h-1zM201 248h1v1h-1zM152 249h1v1h-1zM145 250h1v1h-1zM151 250h1v1h-1zM205 250h1v1h-1zM139 251h1v1h-1zM143 251h1v1h-1zM147 251h1v1h-1zM152 251h1v1h-1zM154 251h1v1h-1zM156 251h3v1h-3zM154 252h1v1h-1zM162 252h2v1h-2zM166 252h1v1h-1zM205 252h2v1h-2zM208 252h1v1h-1zM167 254h1v1h-1zM170 254h1v1h-1zM172 254h1v1h-1zM164 255h1v1h-1zM207 255h2v1h-2zM161 256h1v1h-1zM168 256h2v1h-2zM207 256h2v1h-2zM167 257h1v1h-1zM173 258h1v1h-1zM207 258h1v1h-1zM209 258h1v1h-1zM181 260h1v1h-1zM166 261h1v1h-1zM203 261h1v1h-1zM211 261h1v1h-1zM186 262h1v1h-1zM204 262h2v1h-2zM178 263h1v1h-1zM190 263h1v1h-1zM194 263h1v1h-1zM180 264h1v1h-1zM199 264h1v1h-1zM186 265h1v1h-1zM206 265h1v1h-1zM210 266h1v1h-1zM207 269h1v1h-1z"/>
</g>
<path d="M130.7 205.5H212.2V274.1" fill="none" stroke="#222" stroke-width="1.1"/>
<path d="M130.7 205V274.1H212.7" fill="none" stroke="#000" stroke-width="1.6"/>
<path stroke="#222" stroke-width="1" fill="none" d="M166.6 205.5V274.1M130.7 246.2H212.2"/>
<path stroke="#111" stroke-width="1" d="M130.7 205.5h-1.6M130.7 274.1v1.6M130.7 222.7h-1.6M151.1 274.1v1.6M130.7 239.8h-1.6M171.4 274.1v1.6M130.7 257h-1.6M191.8 274.1v1.6M130.7 274.1h-1.6M212.2 274.1v1.6"/>
<text x="127.7" y="209.1" font-size="5.8" fill="#111" stroke="#222" stroke-width="0.25" font-family="Liberation Serif" font-weight="bold" text-anchor="end">10<tspan font-size="3.9" dy="-2.2">4</tspan></text>
<text x="132.5" y="282.2" font-size="5.8" fill="#111" stroke="#222" stroke-width="0.25" font-family="Liberation Serif" font-weight="bold" text-anchor="middle">10<tspan font-size="3.9" dy="-2.2">0</tspan></text>
<text x="127.7" y="226.2" font-size="5.8" fill="#111" stroke="#222" stroke-width="0.25" font-family="Liberation Serif" font-weight="bold" text-anchor="end">10<tspan font-size="3.9" dy="-2.2">3</tspan></text>
<text x="152.9" y="282.2" font-size="5.8" fill="#111" stroke="#222" stroke-width="0.25" font-family="Liberation Serif" font-weight="bold" text-anchor="middle">10<tspan font-size="3.9" dy="-2.2">1</tspan></text>
<text x="127.7" y="243.4" font-size="5.8" fill="#111" stroke="#222" stroke-width="0.25" font-family="Liberation Serif" font-weight="bold" text-anchor="end">10<tspan font-size="3.9" dy="-2.2">2</tspan></text>
<text x="173.2" y="282.2" font-size="5.8" fill="#111" stroke="#222" stroke-width="0.25" font-family="Liberation Serif" font-weight="bold" text-anchor="middle">10<tspan font-size="3.9" dy="-2.2">2</tspan></text>
<text x="127.7" y="260.6" font-size="5.8" fill="#111" stroke="#222" stroke-width="0.25" font-family="Liberation Serif" font-weight="bold" text-anchor="end">10<tspan font-size="3.9" dy="-2.2">1</tspan></text>
<text x="193.6" y="282.2" font-size="5.8" fill="#111" stroke="#222" stroke-width="0.25" font-family="Liberation Serif" font-weight="bold" text-anchor="middle">10<tspan font-size="3.9" dy="-2.2">3</tspan></text>
<text x="127.7" y="276.3" font-size="5.8" fill="#111" stroke="#222" stroke-width="0.25" font-family="Liberation Serif" font-weight="bold" text-anchor="end">10<tspan font-size="3.9" dy="-2.2">0</tspan></text>
<text x="214" y="282.2" font-size="5.8" fill="#111" stroke="#222" stroke-width="0.25" font-family="Liberation Serif" font-weight="bold" text-anchor="middle">10<tspan font-size="3.9" dy="-2.2">4</tspan></text>
<text x="132.7" y="212.3" font-size="8" font-family="Liberation Serif" font-weight="bold" text-anchor="start" stroke="#fff" stroke-width="1.6" stroke-linejoin="round">9.1</text>
<text x="132.7" y="212.3" font-size="8" font-family="Liberation Serif" font-weight="bold" text-anchor="start" stroke="#000" stroke-width="0.45">9.1</text>
<text x="211.2" y="211.9" font-size="8" font-family="Liberation Serif" font-weight="bold" text-anchor="end" stroke="#fff" stroke-width="1.6" stroke-linejoin="round">0.7</text>
<text x="211.2" y="211.9" font-size="8" font-family="Liberation Serif" font-weight="bold" text-anchor="end" stroke="#000" stroke-width="0.45">0.7</text>
<text x="133" y="272.8" font-size="8" font-family="Liberation Serif" font-weight="bold" text-anchor="start" stroke="#fff" stroke-width="1.6" stroke-linejoin="round">8.8</text>
<text x="133" y="272.8" font-size="8" font-family="Liberation Serif" font-weight="bold" text-anchor="start" stroke="#000" stroke-width="0.45">8.8</text>
<text x="210.2" y="272.7" font-size="8" font-family="Liberation Serif" font-weight="bold" text-anchor="end" stroke="#fff" stroke-width="1.6" stroke-linejoin="round">81.4</text>
<text x="210.2" y="272.7" font-size="8" font-family="Liberation Serif" font-weight="bold" text-anchor="end" stroke="#000" stroke-width="0.45">81.4</text>
<g filter="url(#bl)">
<path fill="#000" d="M261 206h1v1h-1zM258 223h1v1h-1zM262 224h1v1h-1zM268 224h1v1h-1zM258 225h1v1h-1zM264 225h1v1h-1zM266 226h1v1h-1zM268 226h1v1h-1zM258 227h2v1h-2zM263 227h1v1h-1zM265 228h1v1h-1zM270 228h1v1h-1zM259 229h1v1h-1zM273 229h1v1h-1zM254 230h1v1h-1zM259 231h1v1h-1zM257 232h1v1h-1zM260 232h1v1h-1zM262 232h1v1h-1zM264 232h1v1h-1zM255 233h1v1h-1zM258 233h1v1h-1zM262 234h1v1h-1zM255 235h1v1h-1zM259 235h2v1h-2zM267 235h1v1h-1zM270 235h1v1h-1zM275 235h1v1h-1zM258 236h1v1h-1zM261 236h1v1h-1zM263 236h1v1h-1zM265 236h1v1h-1zM267 236h1v1h-1zM263 237h3v1h-3zM269 237h1v1h-1zM256 238h2v1h-2zM259 238h1v1h-1zM262 238h1v1h-1zM264 238h1v1h-1zM267 238h2v1h-2zM270 238h1v1h-1zM262 239h1v1h-1zM267 239h2v1h-2zM276 239h1v1h-1zM280 239h1v1h-1zM286 239h1v1h-1zM252 240h1v1h-1zM256 240h1v1h-1zM262 240h3v1h-3zM266 240h2v1h-2zM269 240h1v1h-1zM260 241h8v1h-8zM269 241h1v1h-1zM272 241h1v1h-1zM252 242h1v1h-1zM256 242h2v1h-2zM261 242h1v1h-1zM263 242h4v1h-4zM269 242h2v1h-2zM261 243h8v1h-8zM270 243h1v1h-1zM258 244h1v1h-1zM260 244h1v1h-1zM262 244h7v1h-7zM271 244h1v1h-1zM279 244h1v1h-1zM261 245h9v1h-9zM261 246h10v1h-10zM273 246h1v1h-1zM262 247h1v1h-1zM264 247h2v1h-2zM267 247h2v1h-2zM254 248h1v1h-1zM262 248h2v1h-2zM265 248h2v1h-2zM268 248h2v1h-2zM264 249h1v1h-1zM266 249h3v1h-3zM258 250h1v1h-1zM271 252h1v1h-1zM301 252h1v1h-1zM259 253h1v1h-1zM291 254h1v1h-1zM286 255h1v1h-1zM265 256h1v1h-1zM314 270h1v1h-1z"/>
<path fill="#3a3a3a" d="M261 232h1v1h-1zM260 234h1v1h-1zM263 234h2v1h-2zM262 235h2v1h-2zM262 236h1v1h-1zM264 236h1v1h-1zM267 237h1v1h-1zM263 238h1v1h-1zM259 239h1v1h-1zM263 239h4v1h-4zM261 240h1v1h-1zM268 240h1v1h-1zM270 240h1v1h-1zM257 241h1v1h-1zM270 241h1v1h-1zM260 242h1v1h-1zM271 242h1v1h-1zM259 243h1v1h-1zM269 243h1v1h-1zM259 244h1v1h-1zM269 244h1v1h-1zM260 245h1v1h-1zM259 247h1v1h-1zM266 247h1v1h-1zM264 248h1v1h-1z"/>
<path fill="#8a8a8a" d="M245 208h1v1h-1zM252 210h1v1h-1zM264 211h1v1h-1zM262 212h2v1h-2zM286 212h1v1h-1zM255 213h1v1h-1zM258 213h2v1h-2zM262 213h1v1h-1zM266 214h1v1h-1zM261 217h2v1h-2zM268 217h1v1h-1zM259 218h3v1h-3zM253 219h1v1h-1zM263 219h1v1h-1zM259 220h1v1h-1zM261 220h2v1h-2zM262 221h1v1h-1zM267 221h1v1h-1zM244 222h1v1h-1zM263 222h1v1h-1zM266 222h1v1h-1zM263 223h1v1h-1zM268 223h1v1h-1zM261 225h1v1h-1zM273 225h1v1h-1zM258 226h1v1h-1zM265 226h1v1h-1zM259 228h1v1h-1zM268 228h1v1h-1zM280 229h1v1h-1zM252 230h1v1h-1zM257 230h1v1h-1zM260 230h1v1h-1zM263 230h1v1h-1zM266 230h1v1h-1zM245 231h1v1h-1zM261 231h1v1h-1zM263 231h1v1h-1zM265 232h1v1h-1zM256 233h1v1h-1zM269 233h1v1h-1zM258 234h2v1h-2zM272 234h3v1h-3zM276 234h1v1h-1zM295 234h1v1h-1zM256 235h1v1h-1zM275 236h1v1h-1zM271 237h1v1h-1zM273 237h1v1h-1zM251 238h1v1h-1zM254 238h1v1h-1zM253 239h1v1h-1zM271 239h1v1h-1zM273 239h1v1h-1zM254 240h1v1h-1zM247 241h1v1h-1zM275 241h1v1h-1zM255 242h1v1h-1zM256 243h1v1h-1zM274 243h1v1h-1zM256 244h1v1h-1zM275 244h1v1h-1zM272 245h2v1h-2zM280 245h1v1h-1zM247 246h1v1h-1zM272 246h1v1h-1zM275 246h1v1h-1zM280 246h1v1h-1zM250 247h2v1h-2zM271 247h1v1h-1zM270 248h1v1h-1zM249 249h1v1h-1zM257 249h1v1h-1zM301 249h1v1h-1zM248 250h1v1h-1zM265 250h2v1h-2zM275 251h1v1h-1zM293 251h1v1h-1zM266 252h1v1h-1zM300 252h1v1h-1zM303 252h1v1h-1zM305 252h1v1h-1zM264 253h1v1h-1zM256 254h1v1h-1zM298 255h1v1h-1zM290 256h1v1h-1zM302 257h1v1h-1zM307 263h1v1h-1zM282 265h1v1h-1zM307 266h1v1h-1zM312 267h1v1h-1zM252 269h1v1h-1zM282 269h1v1h-1zM264 272h1v1h-1z"/>
</g>
<path d="M234.6 205.5H316V273.9" fill="none" stroke="#222" stroke-width="1.1"/>
<path d="M234.6 205V273.9H316.5" fill="none" stroke="#000" stroke-width="1.6"/>
<path stroke="#222" stroke-width="1" fill="none" d="M269.5 205.5V273.9M234.6 245.2H316"/>
<path stroke="#111" stroke-width="1" d="M234.6 205.5h-1.6M234.6 273.9v1.6M234.6 222.6h-1.6M254.9 273.9v1.6M234.6 239.7h-1.6M275.3 273.9v1.6M234.6 256.8h-1.6M295.6 273.9v1.6M234.6 273.9h-1.6M316 273.9v1.6"/>
<text x="231.6" y="209.1" font-size="5.8" fill="#111" stroke="#222" stroke-width="0.25" font-family="Liberation Serif" font-weight="bold" text-anchor="end">10<tspan font-size="3.9" dy="-2.2">4</tspan></text>
<text x="236.4" y="282" font-size="5.8" fill="#111" stroke="#222" stroke-width="0.25" font-family="Liberation Serif" font-weight="bold" text-anchor="middle">10<tspan font-size="3.9" dy="-2.2">0</tspan></text>
<text x="231.6" y="226.2" font-size="5.8" fill="#111" stroke="#222" stroke-width="0.25" font-family="Liberation Serif" font-weight="bold" text-anchor="end">10<tspan font-size="3.9" dy="-2.2">3</tspan></text>
<text x="256.8" y="282" font-size="5.8" fill="#111" stroke="#222" stroke-width="0.25" font-family="Liberation Serif" font-weight="bold" text-anchor="middle">10<tspan font-size="3.9" dy="-2.2">1</tspan></text>
<text x="231.6" y="243.3" font-size="5.8" fill="#111" stroke="#222" stroke-width="0.25" font-family="Liberation Serif" font-weight="bold" text-anchor="end">10<tspan font-size="3.9" dy="-2.2">2</tspan></text>
<text x="277.1" y="282" font-size="5.8" fill="#111" stroke="#222" stroke-width="0.25" font-family="Liberation Serif" font-weight="bold" text-anchor="middle">10<tspan font-size="3.9" dy="-2.2">2</tspan></text>
<text x="231.6" y="260.4" font-size="5.8" fill="#111" stroke="#222" stroke-width="0.25" font-family="Liberation Serif" font-weight="bold" text-anchor="end">10<tspan font-size="3.9" dy="-2.2">1</tspan></text>
<text x="297.4" y="282" font-size="5.8" fill="#111" stroke="#222" stroke-width="0.25" font-family="Liberation Serif" font-weight="bold" text-anchor="middle">10<tspan font-size="3.9" dy="-2.2">3</tspan></text>
<text x="231.6" y="276.1" font-size="5.8" fill="#111" stroke="#222" stroke-width="0.25" font-family="Liberation Serif" font-weight="bold" text-anchor="end">10<tspan font-size="3.9" dy="-2.2">0</tspan></text>
<text x="317.8" y="282" font-size="5.8" fill="#111" stroke="#222" stroke-width="0.25" font-family="Liberation Serif" font-weight="bold" text-anchor="middle">10<tspan font-size="3.9" dy="-2.2">4</tspan></text>
<text x="235.6" y="211.9" font-size="8" font-family="Liberation Serif" font-weight="bold" text-anchor="start" stroke="#fff" stroke-width="1.6" stroke-linejoin="round">65.3</text>
<text x="235.6" y="211.9" font-size="8" font-family="Liberation Serif" font-weight="bold" text-anchor="start" stroke="#000" stroke-width="0.45">65.3</text>
<text x="315.6" y="211.9" font-size="8" font-family="Liberation Serif" font-weight="bold" text-anchor="end" stroke="#fff" stroke-width="1.6" stroke-linejoin="round">3.6</text>
<text x="315.6" y="211.9" font-size="8" font-family="Liberation Serif" font-weight="bold" text-anchor="end" stroke="#000" stroke-width="0.45">3.6</text>
<text x="235" y="273" font-size="8" font-family="Liberation Serif" font-weight="bold" text-anchor="start" stroke="#fff" stroke-width="1.6" stroke-linejoin="round">15.1</text>
<text x="235" y="273" font-size="8" font-family="Liberation Serif" font-weight="bold" text-anchor="start" stroke="#000" stroke-width="0.45">15.1</text>
<text x="314.8" y="273" font-size="8" font-family="Liberation Serif" font-weight="bold" text-anchor="end" stroke="#fff" stroke-width="1.6" stroke-linejoin="round">16.0</text>
<text x="314.8" y="273" font-size="8" font-family="Liberation Serif" font-weight="bold" text-anchor="end" stroke="#000" stroke-width="0.45">16.0</text>
<path d="M264.5 29.8L272 25.2" stroke="#000" stroke-width="1.4"/>
<text x="1.7" y="13.2" font-family="Liberation Sans" font-weight="bold" font-size="16.8" stroke="#000" stroke-width="0.5">A</text>
<text x="60.2" y="13.2" font-size="9.6" font-family="Liberation Serif" font-weight="bold" stroke="#000" stroke-width="0.3" text-anchor="middle">Wild type</text>
<text x="166.5" y="13.3" font-size="9.4" font-family="Liberation Serif" font-weight="bold" stroke="#000" stroke-width="0.3" text-anchor="middle">Rescued</text>
<text x="257" y="13.4" font-size="9.3" font-family="Liberation Serif" font-weight="bold" stroke="#000" stroke-width="0.3">EpoR</text>
<path d="M282.8 5.5H287.2M290.6 3L287.4 9.6M289.7 6.5H294.7" stroke="#111" stroke-width="1.2"/>
<text transform="translate(9.7 60.2) rotate(-90)" font-size="9.4" font-family="Liberation Serif" font-weight="bold" stroke="#000" stroke-width="0.3" text-anchor="middle">CD44</text>
<text transform="translate(9.7 151.3) rotate(-90)" font-size="9.4" font-family="Liberation Serif" font-weight="bold" stroke="#000" stroke-width="0.3" text-anchor="middle">c-Kit</text>
<text transform="translate(9.7 241.3) rotate(-90)" font-size="9.4" font-family="Liberation Serif" font-weight="bold" stroke="#000" stroke-width="0.3" text-anchor="middle">CD41</text>
<path d="M22.5 290.8H303" stroke="#000" stroke-width="1.7"/>
<path d="M317.5 290.8L295.8 284.3Q301 288.5 302.5 290.8Q301 293.1 295.8 298.6Z" fill="#000"/>
<text x="166.5" y="302.5" font-size="9.9" font-family="Liberation Serif" font-weight="bold" stroke="#000" stroke-width="0.3" text-anchor="middle">Ter119</text>
<text x="350.6" y="13.8" font-family="Liberation Sans" font-weight="bold" font-size="16.8" stroke="#000" stroke-width="0.5">B</text>
<path d="M382.3 22.5V202.5" stroke="#000" stroke-width="1.6"/>
<path d="M387.5 201.2H511.2" stroke="#000" stroke-width="1.7"/>
<path d="M382.3 201.4h-2M382.3 176.1h-2M382.3 150.7h-2M382.3 125.3h-2M382.3 100h-2M382.3 74.7h-2M382.3 49.3h-2M382.3 23.9h-2" stroke="#000" stroke-width="1.2"/>
<text x="379" y="205.3" font-size="9" font-family="Liberation Serif" font-weight="bold" stroke="#000" stroke-width="0.3" text-anchor="end">0</text>
<text x="379" y="154.5" font-size="9" font-family="Liberation Serif" font-weight="bold" stroke="#000" stroke-width="0.3" text-anchor="end">20</text>
<text x="379" y="103" font-size="9" font-family="Liberation Serif" font-weight="bold" stroke="#000" stroke-width="0.3" text-anchor="end">40</text>
<text x="379" y="50.5" font-size="9" font-family="Liberation Serif" font-weight="bold" stroke="#000" stroke-width="0.3" text-anchor="end">60</text>
<path d="M389 201.2v3M439.4 201.2v3M475.5 201.2v3M490.6 201.2v3M510.3 201.2v3" stroke="#000" stroke-width="1.4"/>
<text x="391.8" y="215.2" font-size="9.1" font-family="Liberation Serif" font-weight="bold" stroke="#000" stroke-width="0.3" text-anchor="middle">0.01</text>
<text x="439.9" y="215.2" font-size="9.1" font-family="Liberation Serif" font-weight="bold" stroke="#000" stroke-width="0.3" text-anchor="middle">0.1</text>
<text x="472.6" y="215.2" font-size="9.1" font-family="Liberation Serif" font-weight="bold" stroke="#000" stroke-width="0.3" text-anchor="middle">0.5</text>
<text x="491.8" y="215.2" font-size="9.1" font-family="Liberation Serif" font-weight="bold" stroke="#000" stroke-width="0.3" text-anchor="middle">1.0</text>
<text x="511.9" y="215.2" font-size="9.1" font-family="Liberation Serif" font-weight="bold" stroke="#000" stroke-width="0.3" text-anchor="middle">2.0</text>
<text x="452" y="231.5" font-size="9.3" font-family="Liberation Serif" font-weight="bold" stroke="#000" stroke-width="0.3" text-anchor="middle">Epo (U/mL)</text>
<text transform="translate(357.9 114.9) rotate(-90)" font-size="9.7" font-family="Liberation Serif" font-weight="bold" stroke="#000" stroke-width="0.3" text-anchor="middle">No. of CFU-E derived colonies (/10<tspan font-size="6" dy="-3.5">4</tspan><tspan dy="3.5">)</tspan></text>
<path d="M388.3 163.5V170M385.3 163.5h6M385.3 170h6" stroke="#e06a8a" stroke-width="1" fill="none"/>
<path d="M420.5 101.7V115.5M417.5 101.7h6M417.5 115.5h6" stroke="#8a7ad0" stroke-width="1" fill="none"/>
<path d="M422.4 130.6V136M419.4 130.6h6M419.4 136h6" stroke="#222" stroke-width="1" fill="none"/>
<path d="M439.2 125.2V136.2M436.2 125.2h6M436.2 136.2h6" stroke="#111" stroke-width="1" fill="none"/>
<path d="M439.1 84.6V125.2M436.1 84.6h6M436.1 125.2h6" stroke="#e07a9a" stroke-width="1" fill="none"/>
<path d="M438.8 71.8V75.7M435.8 71.8h6M435.8 75.7h6" stroke="#3050e0" stroke-width="1" fill="none"/>
<path d="M475.6 59.5V67.8M472.6 59.5h6M472.6 67.8h6" stroke="#a060d0" stroke-width="1" fill="none"/>
<path d="M475.8 61.5V70.4M472.8 61.5h6M472.8 70.4h6" stroke="#8a70e0" stroke-width="1" fill="none"/>
<path d="M477.6 83.6V89M474.6 83.6h6M474.6 89h6" stroke="#111" stroke-width="1" fill="none"/>
<path d="M475.9 78.2V93.4M472.9 78.2h6M472.9 93.4h6" stroke="#e06a8a" stroke-width="1" fill="none"/>
<path d="M511.3 42.4V51.4M508.3 42.4h6M508.3 51.4h6" stroke="#3a9ae8" stroke-width="1" fill="none"/>
<path d="M511.3 70.2V79M508.3 70.2h6M508.3 79h6" stroke="#40d040" stroke-width="1" fill="none"/>
<path d="M424.5 136.2V141.5M421.5 136.2h6M421.5 141.5h6" stroke="#e06a8a" stroke-width="1" fill="none"/>
<path d="M425.3 117.5V128M422.3 117.5h6M422.3 128h6" stroke="#5aa8e8" stroke-width="1" fill="none"/>
<polyline points="389,196.2 422.4,130.6 439.3,130.5 477.6,83.6 511,60.5" fill="none" stroke="#000" stroke-width="2.1" stroke-linejoin="round"/>
<path d="M393.6 170.2Q411 162 427.6 130.4L439.6 96.4L472.8 82.2L511.5 70.4" fill="none" stroke="#2ed62e" stroke-width="2.1" stroke-linejoin="round"/>
<path d="M388.3 170Q408 165 424.5 136.2L439.1 104.5L475.6 78.2L512 65.8" fill="none" stroke="#e01b1b" stroke-width="2.1" stroke-linejoin="round"/>
<polyline points="388.3,179 425.3,117.5 439.4,80.7 475.6,70.4 511.6,50.7" fill="none" stroke="#2fa0ee" stroke-width="2.1" stroke-linejoin="round"/>
<polyline points="388.5,186.2 420.5,115.5 438.8,75.7 475.7,67.8 511.2,56" fill="none" stroke="#1a2fe0" stroke-width="2.1" stroke-linejoin="round"/>
<circle cx="389" cy="196.2" r="2.3" fill="#fff" stroke="#000" stroke-width="1.5"/>
<circle cx="422.4" cy="130.6" r="2.3" fill="#fff" stroke="#000" stroke-width="1.5"/>
<circle cx="439.3" cy="130.5" r="2.3" fill="#fff" stroke="#000" stroke-width="1.5"/>
<circle cx="477.6" cy="83.6" r="2.3" fill="#fff" stroke="#000" stroke-width="1.5"/>
<circle cx="511" cy="60.5" r="2.3" fill="#fff" stroke="#000" stroke-width="1.5"/>
<rect x="391.3" y="167.9" width="4.6" height="4.6" fill="#fff" stroke="#2ed62e" stroke-width="1.3"/>
<rect x="425.3" y="128.1" width="4.6" height="4.6" fill="#fff" stroke="#2ed62e" stroke-width="1.3"/>
<rect x="437.3" y="94.1" width="4.6" height="4.6" fill="#fff" stroke="#2ed62e" stroke-width="1.3"/>
<rect x="470.5" y="79.9" width="4.6" height="4.6" fill="#fff" stroke="#2ed62e" stroke-width="1.3"/>
<rect x="509.2" y="68.1" width="4.6" height="4.6" fill="#fff" stroke="#2ed62e" stroke-width="1.3"/>
<rect x="386" y="167.7" width="4.6" height="4.6" fill="#fff" stroke="#e01b1b" stroke-width="1.3"/>
<rect x="422.2" y="133.9" width="4.6" height="4.6" fill="#fff" stroke="#e01b1b" stroke-width="1.3"/>
<rect x="436.8" y="102.2" width="4.6" height="4.6" fill="#fff" stroke="#e01b1b" stroke-width="1.3"/>
<rect x="473.3" y="75.9" width="4.6" height="4.6" fill="#fff" stroke="#e01b1b" stroke-width="1.3"/>
<rect x="509.7" y="63.5" width="4.6" height="4.6" fill="#fff" stroke="#e01b1b" stroke-width="1.3"/>
<rect x="386" y="176.7" width="4.6" height="4.6" fill="#fff" stroke="#2fa0ee" stroke-width="1.3"/>
<rect x="423" y="115.2" width="4.6" height="4.6" fill="#fff" stroke="#2fa0ee" stroke-width="1.3"/>
<rect x="437.1" y="78.4" width="4.6" height="4.6" fill="#fff" stroke="#2fa0ee" stroke-width="1.3"/>
<rect x="473.3" y="68.1" width="4.6" height="4.6" fill="#fff" stroke="#2fa0ee" stroke-width="1.3"/>
<rect x="509.3" y="48.4" width="4.6" height="4.6" fill="#fff" stroke="#2fa0ee" stroke-width="1.3"/>
<circle cx="388.5" cy="186.2" r="2.3" fill="#fff" stroke="#1a2fe0" stroke-width="1.5"/>
<circle cx="420.5" cy="115.5" r="2.3" fill="#fff" stroke="#1a2fe0" stroke-width="1.5"/>
<circle cx="438.8" cy="75.7" r="2.3" fill="#fff" stroke="#1a2fe0" stroke-width="1.5"/>
<circle cx="475.7" cy="67.8" r="2.3" fill="#fff" stroke="#1a2fe0" stroke-width="1.5"/>
<circle cx="511.2" cy="56" r="2.3" fill="#fff" stroke="#1a2fe0" stroke-width="1.5"/>
<circle cx="509.9" cy="196.8" r="2.9" fill="#f7b860" stroke="#e8392f" stroke-width="1.6"/>
<path d="M448.3 129.2V135.4M445.6 130.8L451 133.8M445.6 133.8L451 130.8" stroke="#000" stroke-width="1.9" stroke-linecap="round"/>
<path d="M362.2 263.2H389.3" stroke="#1a2fe0" stroke-width="1.5"/>
<circle cx="375.8" cy="263.2" r="2.5" fill="#fff" stroke="#1a2fe0" stroke-width="1.5"/>
<text x="394.4" y="266" font-size="9.8" font-family="Liberation Serif" font-weight="bold" stroke="#000" stroke-width="0.3">Wild type</text>
<path d="M362.2 279H389.3" stroke="#2fa0ee" stroke-width="1.5"/>
<rect x="373.2" y="276.5" width="5" height="5" fill="#fff" stroke="#2fa0ee" stroke-width="1.3"/>
<text x="394.4" y="282" font-size="9.8" font-family="Liberation Serif" font-weight="bold" stroke="#000" stroke-width="0.3">Tg-A</text>
<path d="M362.2 294.8H389.3" stroke="#e01b1b" stroke-width="1.5"/>
<rect x="373.2" y="292.3" width="5" height="5" fill="#fff" stroke="#e01b1b" stroke-width="1.3"/>
<text x="394.4" y="297.8" font-size="9.8" font-family="Liberation Serif" font-weight="bold" stroke="#000" stroke-width="0.3">Tg-B</text>
<path d="M444.5 279.2H465.2" stroke="#2ed62e" stroke-width="1.5"/>
<rect x="452.4" y="276.7" width="5" height="5" fill="#fff" stroke="#2ed62e" stroke-width="1.3"/>
<text x="471" y="282.3" font-size="9.8" font-family="Liberation Serif" font-weight="bold" stroke="#000" stroke-width="0.3">Rescued-A</text>
<path d="M444.5 295H465.2" stroke="#000" stroke-width="1.5"/>
<circle cx="454.9" cy="295" r="2.5" fill="#fff" stroke="#000" stroke-width="1.5"/>
<text x="471" y="298" font-size="9.8" font-family="Liberation Serif" font-weight="bold" stroke="#000" stroke-width="0.3">Rescued-B</text>
<circle cx="455" cy="263.5" r="2.7" fill="#f7b860" stroke="#e8392f" stroke-width="1.5"/>
<text x="471" y="266" font-size="9.8" font-family="Liberation Serif" font-weight="bold" stroke="#000" stroke-width="0.3">EpoR</text>
<path d="M496.8 258H501.6M504.2 255.2L501.2 262.1M503.7 259.2H508.5" stroke="#111" stroke-width="1.3"/></svg>
</body></html>
